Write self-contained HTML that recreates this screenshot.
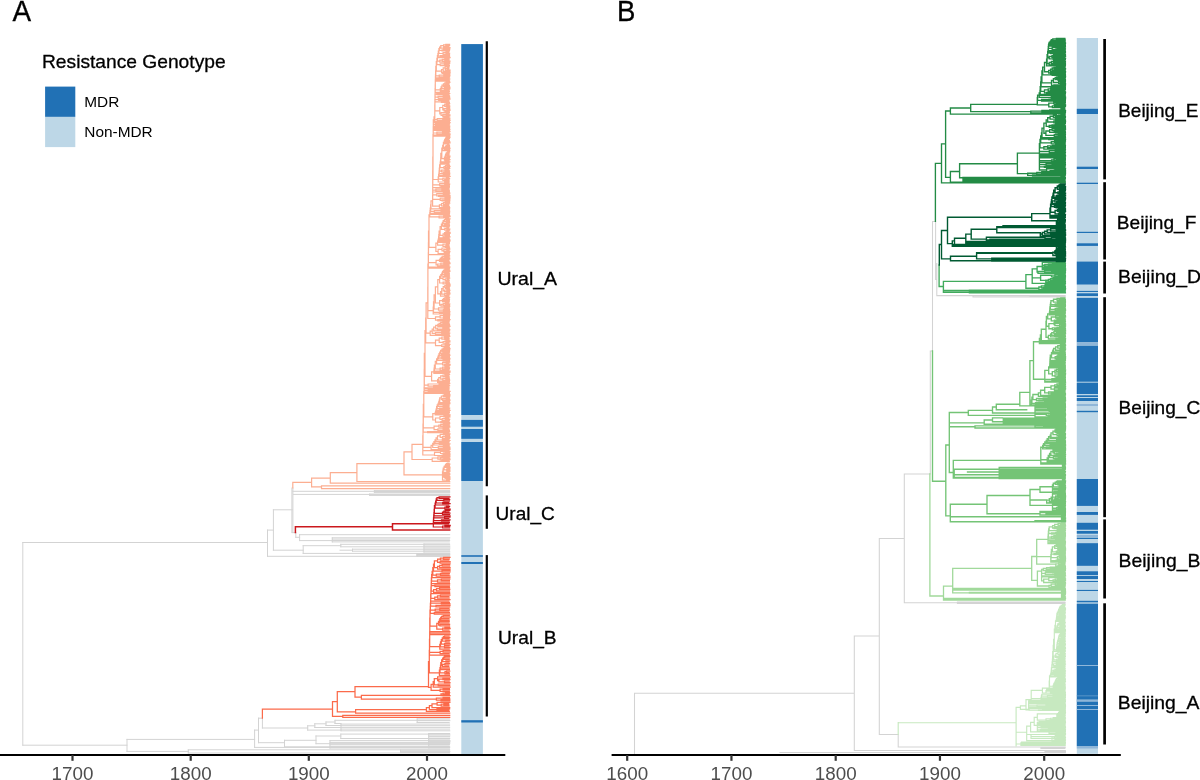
<!DOCTYPE html>
<html><head><meta charset="utf-8"><title>Figure</title>
<style>
html,body{margin:0;padding:0;background:#fff;}
svg{display:block;font-family:"Liberation Sans",sans-serif;will-change:transform;}
</style></head><body>
<svg width="1200" height="780" viewBox="0 0 1200 780">
<rect x="0" y="0" width="1200" height="780" fill="#fff"/>
<path d="M22.8 542.5V745.2M22.8 542.5H267.5M22.8 745.2H127.0M127.0 739.4V751.4M127.0 739.4H254.6M127.0 751.4H188.3M188.3 749.8V753.0M188.3 749.8H449.7M188.3 753.0H449.7M254.6 730.1V747.4M254.6 730.1H258.5M258.5 718.2V742.7M258.5 718.2H262.4M262.4 718.2V728.0M262.4 728.0H307.7M307.7 725.8V730.1M307.7 725.8H314.8M314.8 723.8V727.5M314.8 723.8H326.0M326.0 722.0V725.5M326.0 722.0H335.0M335.0 720.3V723.5M335.0 720.3H449.7M335.0 723.5H341.0M314.8 727.5H341.0M326.0 725.5H341.0M307.7 730.1H341.0M341.0 724.1H449.6M341.0 725.7H449.6M341.0 727.4H449.7M341.0 729.1H449.6M341.0 730.8H449.8M341.0 724.1V730.8M417.2 718.9H449.4M417.2 720.7H449.8M417.2 722.5H449.2M417.2 718.9V722.5M258.5 742.7H284.5M284.5 740.3V746.8M284.5 740.3H316.0M316.0 736.0V743.7M316.0 736.0H340.8M340.8 734.1V738.5M340.8 734.1H449.7M340.8 738.5H449.7M316.0 743.7H449.7M284.5 746.8H449.7M254.6 747.4H449.7M330.0 740.6H450.0M330.0 742.4H449.7M330.0 744.3H449.2M330.0 746.2H449.2M330.0 748.0H449.4M330.0 740.6V748.0M428.7 733.5H449.6M428.7 735.1H449.9M428.7 736.6H449.7M428.7 738.2H449.7M428.7 739.9H449.4M428.7 741.4H450.0M428.7 743.0H449.8M428.7 744.6H449.4M428.7 746.2H449.3M428.7 747.8H449.5M428.7 733.5V747.8M400.5 750.2H449.5M400.5 751.4H449.9M400.5 752.5H449.4M400.5 750.2V752.5M267.5 530.1V556.3M267.5 530.1H273.4M273.4 509.8V550.2M273.4 509.8H292.3M291.9 488.0V532.6M292.9 488.0V532.6M292.8 491.3H449.7M293.5 494.4H449.7M374.4 490.6H449.6M374.4 491.5H449.5M374.4 492.4H449.7M374.4 490.6V492.4M369.7 494.1H449.4M369.7 495.4H449.5M369.7 494.1V495.4M292.3 532.6H295.8M295.8 532.6V537.3M295.8 537.3H299.6M299.6 534.7V540.6M299.6 534.7H449.7M299.6 540.6H449.7M332.3 537.8H449.8M332.3 539.1H449.4M332.3 540.5H449.2M332.3 541.9H449.3M332.3 537.8V541.9M273.4 550.2H303.2M303.2 545.7V553.4M303.2 545.7H340.8M340.8 544.3V546.8M340.8 544.3H449.7M340.8 546.8H449.7M303.2 553.4H449.7M352.5 549.2V551.2M352.5 549.2H449.7M352.5 551.2H449.7M340.0 550.2H352.5M417.0 553.7H449.6M417.0 554.5H449.8M417.0 555.3H449.7M417.0 556.1H449.5M417.0 553.7V556.1M267.5 556.3H449.7M424.0 544.0H449.4M424.0 546.0H449.8M424.0 548.0H449.9M424.0 550.0H449.5M424.0 552.0H449.7M424.0 544.0V552.0" stroke="#D3D3D3" stroke-width="1.0" fill="none" stroke-linecap="square"/>
<path d="M292.8 482.3V488.0M292.8 482.3H311.6M311.6 478.2V486.9M311.6 478.2H330.3M330.3 472.6V483.1M330.3 472.6H356.9M356.9 463.7V481.5M356.9 481.5H449.7M330.3 483.1H449.7M311.6 486.9H321.5M321.5 485.9V488.7M321.5 485.9H449.7M321.5 488.7H449.7M356.9 463.7H404.0M404.0 451.9V474.8M404.0 451.9H412.0M412.0 444.3V459.5M412.0 444.3H422.8M445.8 44.3V45.4M445.8 44.3H449.6M445.8 45.4H449.6M443.6 44.9V46.5M443.6 44.9H445.8M443.6 46.5H448.9M443.6 47.7V48.8M443.6 47.7H450.0M443.6 48.8H449.8M440.8 45.7V48.2M440.8 45.7H443.6M440.8 48.2H443.6M442.0 49.9V51.0M442.0 49.9H449.6M442.0 51.0H449.4M439.6 47.0V50.5M439.6 47.0H440.8M439.6 50.5H442.0M446.0 52.1V53.3M446.0 52.1H448.8M446.0 53.3H449.6M443.1 52.7V54.4M443.1 52.7H446.0M443.1 54.4H449.5M438.9 48.7V53.5M438.9 48.7H439.6M438.9 53.5H443.1M440.4 55.5V56.6M440.4 55.5H449.5M440.4 56.6H449.6M438.3 51.1V56.1M438.3 51.1H438.9M438.3 56.1H440.4M437.9 53.6V57.7M437.9 53.6H438.3M437.9 57.7H450.1M444.8 58.9V60.0M444.8 58.9H449.1M444.8 60.0H449.0M442.3 59.4V61.1M442.3 59.4H444.8M442.3 61.1H450.0M439.8 60.2V62.2M439.8 60.2H442.3M439.8 62.2H449.7M437.4 55.7V61.2M437.4 55.7H437.9M437.4 61.2H439.8M444.4 63.3V64.4M444.4 63.3H449.7M444.4 64.4H449.1M440.2 63.9V65.6M440.2 63.9H444.4M440.2 65.6H449.4M436.9 58.4V64.7M436.9 58.4H437.4M436.9 64.7H440.2M447.4 67.8V68.9M447.4 67.8H448.9M447.4 68.9H448.9M445.7 68.4V70.0M445.7 68.4H447.4M445.7 70.0H450.1M445.1 66.7V69.2M445.1 66.7H449.1M445.1 69.2H445.7M443.2 67.9V71.2M443.2 67.9H445.1M443.2 71.2H449.9M442.6 72.3V73.4M442.6 72.3H450.1M442.6 73.4H449.9M441.5 69.6V72.8M441.5 69.6H443.2M441.5 72.8H442.6M436.3 61.6V71.2M436.3 61.6H436.9M436.3 71.2H441.5M443.8 74.5V75.6M443.8 74.5H449.8M443.8 75.6H449.9M439.2 75.1V76.8M439.2 75.1H443.8M439.2 76.8H449.6M435.8 66.4V75.9M435.8 66.4H436.3M435.8 75.9H439.2M435.6 71.2V77.9M435.6 71.2H435.8M435.6 77.9H449.2M435.5 74.5V79.0M435.5 74.5H435.6M435.5 79.0H449.9M435.4 76.8V80.1M435.4 76.8H435.5M435.4 80.1H449.2M435.4 78.4V81.2M435.4 78.4H435.4M435.4 81.2H449.6M446.1 82.4V83.5M446.1 82.4H449.9M446.1 83.5H449.1M444.8 82.9V84.6M444.8 82.9H446.1M444.8 84.6H449.0M444.1 85.7V86.8M444.1 85.7H449.4M444.1 86.8H449.7M443.4 83.8V86.3M443.4 83.8H444.8M443.4 86.3H444.1M444.4 88.0V89.1M444.4 88.0H450.1M444.4 89.1H449.7M442.0 85.0V88.5M442.0 85.0H443.4M442.0 88.5H444.4M441.1 86.8V90.2M441.1 86.8H442.0M441.1 90.2H449.1M440.3 88.5V91.3M440.3 88.5H441.1M440.3 91.3H449.4M435.3 79.8V89.9M435.3 79.8H435.4M435.3 89.9H440.3M435.2 84.9V92.4M435.2 84.9H435.3M435.2 92.4H449.0M436.8 93.5V94.7M436.8 93.5H449.8M436.8 94.7H449.0M435.1 88.6V94.1M435.1 94.1H436.8M443.2 95.8V96.9M443.2 95.8H449.5M443.2 96.9H449.6M438.1 96.3V98.0M438.1 96.3H443.2M438.1 98.0H449.8M435.1 91.4V97.2M435.1 91.4H435.1M435.1 97.2H438.1M438.7 99.1V100.3M438.7 99.1H450.0M438.7 100.3H448.9M435.0 94.3V99.7M435.0 94.3H435.1M435.0 99.7H438.7M441.4 101.4V102.5M441.4 101.4H449.0M441.4 102.5H449.4M435.0 97.0V101.9M435.0 101.9H441.4M446.2 103.6V104.7M446.2 103.6H449.7M446.2 104.7H449.1M446.2 105.9V107.0M446.2 105.9H449.7M446.2 107.0H449.8M444.7 104.2V106.4M444.7 104.2H446.2M444.7 106.4H446.2M446.9 108.1V109.2M446.9 108.1H449.5M446.9 109.2H449.9M445.1 110.3V111.5M445.1 110.3H450.0M445.1 111.5H449.3M444.0 108.7V110.9M444.0 108.7H446.9M444.0 110.9H445.1M442.8 105.3V109.8M442.8 105.3H444.7M442.8 109.8H444.0M446.3 113.7V114.8M446.3 113.7H448.9M446.3 114.8H449.9M443.8 115.9V117.1M443.8 115.9H449.9M443.8 117.1H449.0M442.8 114.3V116.5M442.8 114.3H446.3M442.8 116.5H443.8M441.1 112.6V115.4M441.1 112.6H449.4M441.1 115.4H442.8M439.8 107.5V114.0M439.8 107.5H442.8M439.8 114.0H441.1M434.9 99.5V110.8M434.9 99.5H435.0M434.9 110.8H439.8M442.7 118.2V119.3M442.7 118.2H449.9M442.7 119.3H449.7M437.2 118.7V120.4M437.2 118.7H442.7M437.2 120.4H450.1M434.8 105.1V119.6M434.8 105.1H434.9M434.8 119.6H437.2M434.8 112.3V121.5M434.8 121.5H449.5M434.0 116.9V122.6M434.0 116.9H434.8M434.0 122.6H450.1M435.6 123.8V124.9M435.6 123.8H449.5M435.6 124.9H449.2M433.3 119.8V124.3M433.3 119.8H434.0M433.3 124.3H435.6M433.3 122.1V126.0M433.3 126.0H449.8M433.3 124.0V127.1M433.3 127.1H449.7M433.3 125.6V128.2M433.3 128.2H449.5M433.2 126.9V129.4M433.2 129.4H449.9M433.2 128.1V130.5M433.2 130.5H449.6M442.5 131.6V132.7M442.5 131.6H450.0M442.5 132.7H449.1M436.9 132.2V133.8M436.9 132.2H442.5M436.9 133.8H450.0M433.2 129.3V133.0M433.2 133.0H436.9M433.2 131.2V135.0M433.2 135.0H450.1M433.2 133.1V136.1M433.2 136.1H449.5M446.4 137.2V138.3M446.4 137.2H450.1M446.4 138.3H449.5M445.7 137.8V139.4M445.7 137.8H446.4M445.7 139.4H448.9M445.3 138.6V140.6M445.3 138.6H445.7M445.3 140.6H449.4M445.2 141.7V142.8M445.2 141.7H449.8M445.2 142.8H450.1M444.7 139.6V142.2M444.7 139.6H445.3M444.7 142.2H445.2M444.2 140.9V143.9M444.2 140.9H444.7M444.2 143.9H448.8M447.3 145.0V146.2M447.3 145.0H449.5M447.3 146.2H449.5M446.1 145.6V147.3M446.1 145.6H447.3M446.1 147.3H449.6M445.3 146.4V148.4M445.3 146.4H446.1M445.3 148.4H450.0M444.3 147.4V149.5M444.3 147.4H445.3M444.3 149.5H449.6M443.4 142.4V148.5M443.4 142.4H444.2M443.4 148.5H444.3M442.7 145.4V150.6M442.7 145.4H443.4M442.7 150.6H449.8M447.7 151.8V152.9M447.7 151.8H449.5M447.7 152.9H449.1M446.9 152.3V154.0M446.9 152.3H447.7M446.9 154.0H449.1M446.9 155.1V156.2M446.9 155.1H449.0M446.9 156.2H450.0M446.1 153.2V155.7M446.1 153.2H446.9M446.1 155.7H446.9M445.5 154.4V157.3M445.5 154.4H446.1M445.5 157.3H449.7M445.2 155.9V158.5M445.2 155.9H445.5M445.2 158.5H449.3M445.1 159.6V160.7M445.1 159.6H450.0M445.1 160.7H449.1M444.4 157.2V160.1M444.4 157.2H445.2M444.4 160.1H445.1M441.8 148.0V158.7M441.8 148.0H442.7M441.8 158.7H444.4M440.8 153.3V161.8M440.8 153.3H441.8M440.8 161.8H449.9M440.7 157.6V162.9M440.7 157.6H440.8M440.7 162.9H449.1M440.5 160.3V164.1M440.5 160.3H440.7M440.5 164.1H448.9M446.9 165.2V166.3M446.9 165.2H449.4M446.9 166.3H450.1M445.4 165.7V167.4M445.4 165.7H446.9M445.4 167.4H449.5M444.0 166.6V168.5M444.0 166.6H445.4M444.0 168.5H449.8M440.2 162.2V167.6M440.2 162.2H440.5M440.2 167.6H444.0M445.0 169.7V170.8M445.0 169.7H448.9M445.0 170.8H449.6M441.4 170.2V171.9M441.4 170.2H445.0M441.4 171.9H449.3M439.6 164.9V171.1M439.6 164.9H440.2M439.6 171.1H441.4M443.3 173.0V174.1M443.3 173.0H449.8M443.3 174.1H449.7M439.3 168.0V173.6M439.3 168.0H439.6M439.3 173.6H443.3M439.1 170.8V175.3M439.1 170.8H439.3M439.1 175.3H449.3M438.9 173.0V176.4M438.9 173.0H439.1M438.9 176.4H450.2M446.4 177.5V178.6M446.4 177.5H448.9M446.4 178.6H449.6M444.7 179.7V180.9M444.7 179.7H449.0M444.7 180.9H449.1M442.9 178.1V180.3M442.9 178.1H446.4M442.9 180.3H444.7M438.6 174.7V179.2M438.6 174.7H438.9M438.6 179.2H442.9M438.2 176.9V182.0M438.2 176.9H438.6M438.2 182.0H449.1M433.0 134.6V179.5M433.0 134.6H433.2M433.0 179.5H438.2M444.7 183.1V184.2M444.7 183.1H449.0M444.7 184.2H449.7M441.0 185.3V186.4M441.0 185.3H449.3M441.0 186.4H449.4M439.7 183.7V185.9M439.7 183.7H444.7M439.7 185.9H441.0M432.8 157.0V184.8M432.8 157.0H433.0M432.8 184.8H439.7M432.7 170.9V187.6M432.7 187.6H449.3M441.9 188.7V189.8M441.9 188.7H448.9M441.9 189.8H449.1M435.9 189.2V190.9M435.9 189.2H441.9M435.9 190.9H449.4M432.7 179.2V190.1M432.7 190.1H435.9M432.7 184.7V192.0M432.7 192.0H449.3M443.3 193.2V194.3M443.3 193.2H449.9M443.3 194.3H449.2M438.6 195.4V196.5M438.6 195.4H450.0M438.6 196.5H450.0M436.8 193.7V196.0M436.8 193.7H443.3M436.8 196.0H438.6M432.7 188.4V194.8M432.7 194.8H436.8M445.0 197.6V198.8M445.0 197.6H450.1M445.0 198.8H449.9M442.0 199.9V201.0M442.0 199.9H449.8M442.0 201.0H449.9M440.2 198.2V200.4M440.2 198.2H445.0M440.2 200.4H442.0M432.7 191.6V199.3M432.7 199.3H440.2M445.3 202.1V203.2M445.3 202.1H449.4M445.3 203.2H449.8M443.4 202.7V204.4M443.4 202.7H445.3M443.4 204.4H448.9M443.3 205.5V206.6M443.3 205.5H448.8M443.3 206.6H449.3M441.5 203.5V206.0M441.5 203.5H443.4M441.5 206.0H443.3M439.4 204.8V207.7M439.4 204.8H441.5M439.4 207.7H449.7M432.6 195.5V206.2M432.6 206.2H439.4M431.0 200.9V208.8M431.0 200.9H432.6M431.0 208.8H449.6M441.0 210.0V211.1M441.0 210.0H449.3M441.0 211.1H449.7M434.3 210.5V212.2M434.3 210.5H441.0M434.3 212.2H449.6M430.6 204.8V211.4M430.6 204.8H431.0M430.6 211.4H434.3M430.2 208.1V213.3M430.2 208.1H430.6M430.2 213.3H449.5M430.0 210.7V214.4M430.0 210.7H430.2M430.0 214.4H449.3M443.7 215.6V216.7M443.7 215.6H449.8M443.7 216.7H450.1M439.1 216.1V217.8M439.1 216.1H443.7M439.1 217.8H448.8M429.8 212.6V216.9M429.8 212.6H430.0M429.8 216.9H439.1M445.6 218.9V220.0M445.6 218.9H450.1M445.6 220.0H449.3M446.4 221.1V222.3M446.4 221.1H449.5M446.4 222.3H449.6M444.4 219.5V221.7M444.4 219.5H445.6M444.4 221.7H446.4M444.7 223.4V224.5M444.7 223.4H449.2M444.7 224.5H449.3M443.2 220.6V223.9M443.2 220.6H444.4M443.2 223.9H444.7M443.8 225.6V226.7M443.8 225.6H449.5M443.8 226.7H449.2M442.4 222.3V226.2M442.4 222.3H443.2M442.4 226.2H443.8M446.9 227.9V229.0M446.9 227.9H448.8M446.9 229.0H449.9M444.8 228.4V230.1M444.8 228.4H446.9M444.8 230.1H449.6M441.4 224.2V229.3M441.4 224.2H442.4M441.4 229.3H444.8M446.9 231.2V232.3M446.9 231.2H448.9M446.9 232.3H450.1M445.7 231.8V233.5M445.7 231.8H446.9M445.7 233.5H450.1M445.1 234.6V235.7M445.1 234.6H449.4M445.1 235.7H449.4M444.5 232.6V235.1M444.5 232.6H445.7M444.5 235.1H445.1M443.1 233.9V236.8M443.1 233.9H444.5M443.1 236.8H450.1M440.1 226.7V235.3M440.1 226.7H441.4M440.1 235.3H443.1M439.1 231.0V237.9M439.1 231.0H440.1M439.1 237.9H449.1M438.8 234.5V239.1M438.8 234.5H439.1M438.8 239.1H449.5M438.6 236.8V240.2M438.6 236.8H438.8M438.6 240.2H450.1M438.4 238.5V241.3M438.4 238.5H438.6M438.4 241.3H449.8M438.1 239.9V242.4M438.1 239.9H438.4M438.1 242.4H449.4M446.4 243.5V244.7M446.4 243.5H449.4M446.4 244.7H449.0M445.4 245.8V246.9M445.4 245.8H449.0M445.4 246.9H449.3M443.0 244.1V246.3M443.0 244.1H446.4M443.0 246.3H445.4M437.6 241.1V245.2M437.6 241.1H438.1M437.6 245.2H443.0M446.8 249.1V250.2M446.8 249.1H449.8M446.8 250.2H449.1M444.6 251.4V252.5M444.6 251.4H449.9M444.6 252.5H449.6M443.8 249.7V251.9M443.8 249.7H446.8M443.8 251.9H444.6M442.0 248.0V250.8M442.0 248.0H449.6M442.0 250.8H443.8M438.1 249.4V253.6M438.1 249.4H442.0M438.1 253.6H449.3M435.9 243.2V251.5M435.9 243.2H437.6M435.9 251.5H438.1M429.0 214.8V247.3M429.0 214.8H429.8M429.0 247.3H435.9M428.5 231.1V254.7M428.5 231.1H429.0M428.5 254.7H449.2M444.7 255.8V257.0M444.7 255.8H449.7M444.7 257.0H449.1M442.8 256.4V258.1M442.8 256.4H444.7M442.8 258.1H449.7M441.5 257.2V259.2M441.5 257.2H442.8M441.5 259.2H449.7M440.4 258.2V260.3M440.4 258.2H441.5M440.4 260.3H448.8M439.5 259.3V261.4M439.5 259.3H440.4M439.5 261.4H449.2M443.8 262.6V263.7M443.8 262.6H449.8M443.8 263.7H450.0M440.8 263.1V264.8M440.8 263.1H443.8M440.8 264.8H449.0M437.7 264.0V265.9M437.7 264.0H440.8M437.7 265.9H449.1M436.1 260.4V264.9M436.1 260.4H439.5M436.1 264.9H437.7M428.4 242.9V262.6M428.4 242.9H428.5M428.4 262.6H436.1M428.3 252.8V267.0M428.3 252.8H428.4M428.3 267.0H450.1M428.3 259.9V268.2M428.3 268.2H449.5M445.0 269.3V270.4M445.0 269.3H449.2M445.0 270.4H449.8M444.0 269.8V271.5M444.0 269.8H445.0M444.0 271.5H449.9M443.3 270.7V272.6M443.3 270.7H444.0M443.3 272.6H449.1M444.7 273.8V274.9M444.7 273.8H449.4M444.7 274.9H449.2M442.5 271.7V274.3M442.5 271.7H443.3M442.5 274.3H444.7M441.8 273.0V276.0M441.8 273.0H442.5M441.8 276.0H449.5M447.2 278.2V279.3M447.2 278.2H449.7M447.2 279.3H448.9M445.3 278.8V280.5M445.3 278.8H447.2M445.3 280.5H449.2M443.0 277.1V279.6M443.0 277.1H449.2M443.0 279.6H445.3M440.8 274.5V278.4M440.8 274.5H441.8M440.8 278.4H443.0M446.0 281.6V282.7M446.0 281.6H449.0M446.0 282.7H449.3M443.1 282.1V283.8M443.1 282.1H446.0M443.1 283.8H449.8M439.6 276.4V283.0M439.6 276.4H440.8M439.6 283.0H443.1M446.4 284.9V286.1M446.4 284.9H450.1M446.4 286.1H450.0M445.6 287.2V288.3M445.6 287.2H449.3M445.6 288.3H449.3M444.8 285.5V287.7M444.8 285.5H446.4M444.8 287.7H445.6M446.8 289.4V290.5M446.8 289.4H449.6M446.8 290.5H449.9M444.6 290.0V291.7M444.6 290.0H446.8M444.6 291.7H449.5M443.2 286.6V290.8M443.2 286.6H444.8M443.2 290.8H444.6M446.9 292.8V293.9M446.9 292.8H449.8M446.9 293.9H450.0M444.7 293.3V295.0M444.7 293.3H446.9M444.7 295.0H449.2M441.7 288.7V294.2M441.7 288.7H443.2M441.7 294.2H444.7M440.5 291.5V296.1M440.5 291.5H441.7M440.5 296.1H448.8M437.8 279.7V293.8M437.8 279.7H439.6M437.8 293.8H440.5M445.8 297.3V298.4M445.8 297.3H449.6M445.8 298.4H449.2M444.4 297.8V299.5M444.4 297.8H445.8M444.4 299.5H449.5M443.4 298.7V300.6M443.4 298.7H444.4M443.4 300.6H449.3M442.5 299.6V301.7M442.5 299.6H443.4M442.5 301.7H449.2M445.4 302.9V304.0M445.4 302.9H448.9M445.4 304.0H449.9M443.2 303.4V305.1M443.2 303.4H445.4M443.2 305.1H449.4M441.0 304.3V306.2M441.0 304.3H443.2M441.0 306.2H449.8M439.6 300.7V305.2M439.6 300.7H442.5M439.6 305.2H441.0M435.4 286.8V303.0M435.4 286.8H437.8M435.4 303.0H439.6M444.2 307.3V308.5M444.2 307.3H449.3M444.2 308.5H449.3M443.4 309.6V310.7M443.4 309.6H449.5M443.4 310.7H449.5M438.5 307.9V310.1M438.5 307.9H444.2M438.5 310.1H443.4M434.1 294.9V309.0M434.1 294.9H435.4M434.1 309.0H438.5M439.4 311.8V312.9M439.4 311.8H450.0M439.4 312.9H449.4M433.5 301.9V312.4M433.5 301.9H434.1M433.5 312.4H439.4M433.2 307.2V314.0M433.2 307.2H433.5M433.2 314.0H449.9M427.9 264.0V310.6M427.9 264.0H428.3M427.9 310.6H433.2M443.6 315.2V316.3M443.6 315.2H449.7M443.6 316.3H449.5M443.4 317.4V318.5M443.4 317.4H449.4M443.4 318.5H449.4M440.1 315.7V318.0M440.1 315.7H443.6M440.1 318.0H443.4M437.8 319.6V320.8M437.8 319.6H450.1M437.8 320.8H449.3M435.5 316.8V320.2M435.5 316.8H440.1M435.5 320.2H437.8M427.8 287.3V318.5M427.8 287.3H427.9M427.8 318.5H435.5M442.9 321.9V323.0M442.9 321.9H449.0M442.9 323.0H448.9M440.7 322.4V324.1M440.7 322.4H442.9M440.7 324.1H449.4M439.1 323.3V325.2M439.1 323.3H440.7M439.1 325.2H449.6M437.8 324.3V326.4M437.8 324.3H439.1M437.8 326.4H450.0M442.8 327.5V328.6M442.8 327.5H449.1M442.8 328.6H449.1M437.4 328.0V329.7M437.4 328.0H442.8M437.4 329.7H449.8M435.7 325.3V328.9M435.7 325.3H437.8M435.7 328.9H437.4M433.7 327.1V330.8M433.7 327.1H435.7M433.7 330.8H449.6M441.7 332.0V333.1M441.7 332.0H449.0M441.7 333.1H449.8M435.5 332.5V334.2M435.5 332.5H441.7M435.5 334.2H449.2M432.2 329.0V333.4M432.2 329.0H433.7M432.2 333.4H435.5M430.2 331.2V335.3M430.2 331.2H432.2M430.2 335.3H449.5M426.1 302.9V333.2M426.1 302.9H427.8M426.1 333.2H430.2M444.4 336.4V337.6M444.4 336.4H449.8M444.4 337.6H448.9M444.8 338.7V339.8M444.8 338.7H449.1M444.8 339.8H449.0M441.9 337.0V339.2M441.9 337.0H444.4M441.9 339.2H444.8M446.0 340.9V342.0M446.0 340.9H449.9M446.0 342.0H449.9M443.1 341.5V343.1M443.1 341.5H446.0M443.1 343.1H448.9M439.2 338.1V342.3M439.2 338.1H441.9M439.2 342.3H443.1M445.2 344.3V345.4M445.2 344.3H450.0M445.2 345.4H449.4M441.6 344.8V346.5M441.6 344.8H445.2M441.6 346.5H449.1M435.5 340.2V345.7M435.5 340.2H439.2M435.5 345.7H441.6M425.7 318.1V342.9M425.7 318.1H426.1M425.7 342.9H435.5M444.3 347.6V348.7M444.3 347.6H449.5M444.3 348.7H450.0M443.1 348.2V349.9M443.1 348.2H444.3M443.1 349.9H449.7M442.9 351.0V352.1M442.9 351.0H449.5M442.9 352.1H449.5M441.9 349.0V351.5M441.9 349.0H443.1M441.9 351.5H442.9M441.6 353.2V354.3M441.6 353.2H449.1M441.6 354.3H449.7M440.6 350.3V353.8M440.6 350.3H441.9M440.6 353.8H441.6M439.7 352.0V355.5M439.7 352.0H440.6M439.7 355.5H449.9M441.8 356.6V357.7M441.8 356.6H449.4M441.8 357.7H449.5M439.0 353.7V357.1M439.0 353.7H439.7M439.0 357.1H441.8M438.3 355.4V358.8M438.3 355.4H439.0M438.3 358.8H450.1M443.0 359.9V361.1M443.0 359.9H449.4M443.0 361.1H449.6M437.7 357.1V360.5M437.7 357.1H438.3M437.7 360.5H443.0M446.2 362.2V363.3M446.2 362.2H449.7M446.2 363.3H448.9M444.2 364.4V365.5M444.2 364.4H450.1M444.2 365.5H449.9M442.6 362.7V365.0M442.6 362.7H446.2M442.6 365.0H444.2M436.6 358.8V363.9M436.6 358.8H437.7M436.6 363.9H442.6M445.0 366.7V367.8M445.0 366.7H449.1M445.0 367.8H449.6M442.6 367.2V368.9M442.6 367.2H445.0M442.6 368.9H449.4M440.1 368.1V370.0M440.1 368.1H442.6M440.1 370.0H448.8M435.3 361.3V369.0M435.3 361.3H436.6M435.3 369.0H440.1M434.4 365.2V371.1M434.4 365.2H435.3M434.4 371.1H450.1M434.1 368.2V372.3M434.1 368.2H434.4M434.1 372.3H449.9M433.9 370.2V373.4M433.9 370.2H434.1M433.9 373.4H449.1M444.9 374.5V375.6M444.9 374.5H449.6M444.9 375.6H448.9M443.0 375.0V376.7M443.0 375.0H444.9M443.0 376.7H449.1M445.8 377.8V379.0M445.8 377.8H449.2M445.8 379.0H449.4M442.8 378.4V380.1M442.8 378.4H445.8M442.8 380.1H449.7M440.7 375.9V379.2M440.7 375.9H443.0M440.7 379.2H442.8M438.8 377.6V381.2M438.8 377.6H440.7M438.8 381.2H449.4M437.6 379.4V382.3M437.6 379.4H438.8M437.6 382.3H449.3M431.6 371.8V380.9M431.6 371.8H433.9M431.6 380.9H437.6M425.0 330.5V376.3M425.0 330.5H425.7M425.0 376.3H431.6M439.0 383.4V384.6M439.0 383.4H449.8M439.0 384.6H449.0M433.7 385.7V386.8M433.7 385.7H449.6M433.7 386.8H448.9M428.1 384.0V386.2M428.1 384.0H439.0M428.1 386.2H433.7M424.3 353.4V385.1M424.3 353.4H425.0M424.3 385.1H428.1M424.2 369.3V387.9M424.2 369.3H424.3M424.2 387.9H449.1M424.2 378.6V389.0M424.2 389.0H449.0M428.2 390.2V391.3M428.2 390.2H448.9M428.2 391.3H450.1M424.2 383.8V390.7M424.2 390.7H428.2M424.1 387.3V392.4M424.1 392.4H449.4M424.1 389.8V393.5M424.1 393.5H449.5M444.5 394.6V395.8M444.5 394.6H449.9M444.5 395.8H449.9M443.2 395.2V396.9M443.2 395.2H444.5M443.2 396.9H449.6M446.2 398.0V399.1M446.2 398.0H449.3M446.2 399.1H449.5M443.6 400.2V401.4M443.6 400.2H450.1M443.6 401.4H449.5M442.6 398.6V400.8M442.6 398.6H446.2M442.6 400.8H443.6M441.3 396.0V399.7M441.3 396.0H443.2M441.3 399.7H442.6M439.7 397.9V402.5M439.7 397.9H441.3M439.7 402.5H449.8M439.2 400.2V403.6M439.2 400.2H439.7M439.2 403.6H449.9M438.7 401.9V404.7M438.7 401.9H439.2M438.7 404.7H449.1M443.1 405.8V406.9M443.1 405.8H449.1M443.1 406.9H448.9M438.1 403.3V406.4M438.1 403.3H438.7M438.1 406.4H443.1M439.6 408.1V409.2M439.6 408.1H449.7M439.6 409.2H449.2M437.2 404.8V408.6M437.2 404.8H438.1M437.2 408.6H439.6M436.6 406.7V410.3M436.6 406.7H437.2M436.6 410.3H450.1M436.3 408.5V411.4M436.3 408.5H436.6M436.3 411.4H449.3M435.9 410.0V412.5M435.9 410.0H436.3M435.9 412.5H449.4M435.5 411.3V413.7M435.5 411.3H435.9M435.5 413.7H449.0M435.2 412.5V414.8M435.2 412.5H435.5M435.2 414.8H450.1M443.9 415.9V417.0M443.9 415.9H449.8M443.9 417.0H450.0M445.4 418.1V419.3M445.4 418.1H448.8M445.4 419.3H449.7M442.1 418.7V420.4M442.1 418.7H445.4M442.1 420.4H449.3M440.0 416.5V419.5M440.0 416.5H443.9M440.0 419.5H442.1M440.8 421.5V422.6M440.8 421.5H449.0M440.8 422.6H449.6M435.5 418.0V422.1M435.5 418.0H440.0M435.5 422.1H440.8M432.8 413.6V420.0M432.8 413.6H435.2M432.8 420.0H435.5M423.8 391.7V416.8M423.8 391.7H424.1M423.8 416.8H432.8M443.3 423.7V424.9M443.3 423.7H449.7M443.3 424.9H449.2M440.7 424.3V426.0M440.7 424.3H443.3M440.7 426.0H449.7M438.8 425.1V427.1M438.8 425.1H440.7M438.8 427.1H449.8M443.1 428.2V429.3M443.1 428.2H448.8M443.1 429.3H449.1M437.9 428.8V430.5M437.9 428.8H443.1M437.9 430.5H449.4M434.1 426.1V429.6M434.1 426.1H438.8M434.1 429.6H437.9M423.3 404.3V427.9M423.3 404.3H423.8M423.3 427.9H434.1M427.6 431.6V432.7M427.6 431.6H449.6M427.6 432.7H449.0M423.2 416.1V432.1M423.2 416.1H423.3M423.2 432.1H427.6M443.4 433.8V434.9M443.4 433.8H450.0M443.4 434.9H449.6M445.6 436.0V437.2M445.6 436.0H449.4M445.6 437.2H450.0M442.5 436.6V438.3M442.5 436.6H445.6M442.5 438.3H449.7M440.2 434.4V437.4M440.2 434.4H443.4M440.2 437.4H442.5M442.3 439.4V440.5M442.3 439.4H449.0M442.3 440.5H450.1M437.5 435.9V440.0M437.5 435.9H440.2M437.5 440.0H442.3M436.1 437.9V441.6M436.1 437.9H437.5M436.1 441.6H449.2M439.3 442.8V443.9M439.3 442.8H448.8M439.3 443.9H450.0M435.0 439.8V443.3M435.0 439.8H436.1M435.0 443.3H439.3M433.9 441.6V445.0M433.9 441.6H435.0M433.9 445.0H449.2M443.3 446.1V447.2M443.3 446.1H449.2M443.3 447.2H449.9M438.3 446.7V448.4M438.3 446.7H443.3M438.3 448.4H450.0M432.7 443.3V447.5M432.7 443.3H433.9M432.7 447.5H438.3M431.1 445.4V449.5M431.1 445.4H432.7M431.1 449.5H450.0M423.0 424.1V447.4M423.0 424.1H423.2M423.0 447.4H431.1M422.8 435.8V450.6M422.8 435.8H423.0M422.8 450.6H449.1M422.8 443.2V444.3M422.8 444.3V455.0M422.8 455.0H434.5M445.3 452.3V453.2M445.3 452.3H449.6M445.3 453.2H449.7M443.3 452.8V454.2M443.3 452.8H445.3M443.3 454.2H450.0M440.5 451.4V453.5M440.5 451.4H450.0M440.5 453.5H443.3M442.1 455.1V456.0M442.1 455.1H449.8M442.1 456.0H449.9M434.5 452.4V455.5M434.5 452.4H440.5M434.5 455.5H442.1M434.5 454.0V455.0M412.0 459.5H432.2M443.8 457.7V458.6M443.8 457.7H449.2M443.8 458.6H449.8M441.8 459.6V460.5M441.8 459.6H450.0M441.8 460.5H449.1M440.3 458.2V460.0M440.3 458.2H443.8M440.3 460.0H441.8M437.9 456.8V459.1M437.9 456.8H449.9M437.9 459.1H440.3M432.2 458.0V461.4M432.2 458.0H437.9M432.2 461.4H449.3M432.2 459.5V459.7M404.0 474.8H442.5M447.3 463.2V464.2M447.3 463.2H449.1M447.3 464.2H449.9M446.3 463.7V465.2M446.3 463.7H447.3M446.3 465.2H449.4M445.6 464.5V466.3M445.6 464.5H446.3M445.6 466.3H449.6M445.1 465.4V467.3M445.1 465.4H445.6M445.1 467.3H450.0M447.8 468.3V469.3M447.8 468.3H449.9M447.8 469.3H449.8M447.0 470.3V471.3M447.0 470.3H449.9M447.0 471.3H449.9M446.7 468.8V470.8M446.7 468.8H447.8M446.7 470.8H447.0M444.1 466.3V469.8M444.1 466.3H445.1M444.1 469.8H446.7M443.2 468.1V472.4M443.2 468.1H444.1M443.2 472.4H449.1M442.9 470.2V473.4M442.9 470.2H443.2M442.9 473.4H449.7M442.5 471.8V474.4M442.5 471.8H442.9M442.5 474.4H449.8M442.5 473.1V474.8M446.7 480.6V479.5M446.7 480.6H449.3M446.7 479.5H449.9M445.7 478.4V477.4M445.7 478.4H449.9M445.7 477.4H449.9M444.5 477.9V476.3M444.5 477.9H445.7M444.5 476.3H449.8M443.4 477.1V475.2M443.4 477.1H444.5M443.4 475.2H449.2M442.5 480.1V476.1M442.5 480.1H446.7M442.5 476.1H443.4M442.5 474.8V478.1" stroke="#FCAE91" stroke-width="1.2" fill="none" stroke-linecap="square"/>
<path d="M295.4 526.8V532.6M295.4 526.8H392.5M392.5 523.8V530.1M392.5 523.8H433.3M392.5 530.1H449.7" stroke="#CB181D" stroke-width="1.5" fill="none" stroke-linecap="square"/>
<path d="M439.1 496.9V498.3M439.1 496.9H450.0M439.1 498.3H449.0M443.8 499.6V501.0M443.8 499.6H449.7M443.8 501.0H449.4M437.0 497.6V500.3M437.0 497.6H439.1M437.0 500.3H443.8M442.7 502.3V503.7M442.7 502.3H448.8M442.7 503.7H450.1M436.2 498.9V503.0M436.2 498.9H437.0M436.2 503.0H442.7M435.6 501.0V505.0M435.6 501.0H436.2M435.6 505.0H448.7M446.4 506.4V507.7M446.4 506.4H449.6M446.4 507.7H448.9M444.9 507.0V509.1M444.9 507.0H446.4M444.9 509.1H450.2M435.1 503.0V508.1M435.1 503.0H435.6M435.1 508.1H444.9M445.2 510.4V511.8M445.2 510.4H449.9M445.2 511.8H448.9M443.8 511.1V513.1M443.8 511.1H445.2M443.8 513.1H450.0M442.5 512.1V514.5M442.5 512.1H443.8M442.5 514.5H449.6M434.4 505.5V513.3M434.4 505.5H435.1M434.4 513.3H442.5M434.1 509.4V515.8M434.1 509.4H434.4M434.1 515.8H450.1M444.6 517.2V518.5M444.6 517.2H450.0M444.6 518.5H448.8M433.9 512.6V517.9M433.9 512.6H434.1M433.9 517.9H444.6M441.5 519.9V521.2M441.5 519.9H450.1M441.5 521.2H449.2M433.7 515.2V520.6M433.7 515.2H433.9M433.7 520.6H441.5M433.5 517.9V522.6M433.5 517.9H433.7M433.5 522.6H449.4M433.4 520.2V523.9M433.4 520.2H433.5M433.4 523.9H448.7M444.9 525.3V526.6M444.9 525.3H450.2M444.9 526.6H449.8M442.7 526.0V528.0M442.7 526.0H444.9M442.7 528.0H449.5M433.3 522.1V527.0M433.3 522.1H433.4M433.3 527.0H442.7M433.3 523.8V524.5" stroke="#CB181D" stroke-width="1.2" fill="none" stroke-linecap="square"/>
<path d="M262.4 709.0V718.2M262.4 709.0H332.5M332.5 701.6V716.4M332.5 701.6H337.3M337.3 691.6V711.8M337.3 691.6H355.0M355.0 686.7V697.2M355.0 686.7H428.5M355.0 697.2H361.4M361.4 695.3V699.1M361.4 695.3H447.3M361.4 699.1H436.4M443.1 697.4V698.5M443.1 697.4H449.5M443.1 698.5H449.7M441.0 699.7V700.8M441.0 699.7H449.8M441.0 700.8H449.8M436.4 698.0V700.2M436.4 698.0H443.1M436.4 700.2H441.0M445.4 692.6V693.6M445.4 692.6H449.7M445.4 693.6H449.3M443.1 693.1V694.6M443.1 693.1H445.4M443.1 694.6H449.3M441.0 693.9V695.6M441.0 693.9H443.1M441.0 695.6H450.0M441.0 694.7V695.3M337.3 711.8H355.6M355.6 709.5V713.2M355.6 709.5H426.4M355.6 713.2H449.7M443.9 703.6V704.9M443.9 703.6H448.7M443.9 704.9H448.9M441.2 704.2V706.2M441.2 704.2H443.9M441.2 706.2H449.0M437.1 702.3V705.2M437.1 702.3H449.9M437.1 705.2H441.2M432.0 703.8V707.5M432.0 703.8H437.1M432.0 707.5H449.7M437.0 708.8V710.1M437.0 708.8H449.6M437.0 710.1H448.8M429.4 705.6V709.5M429.4 705.6H432.0M429.4 709.5H437.0M426.4 707.5V711.4M426.4 707.5H429.4M426.4 711.4H449.3M332.5 716.4H342.8M342.8 715.4V717.4M342.8 715.4H449.7M342.8 717.4H449.7M443.6 557.3V558.8M443.6 557.3H450.0M443.6 558.8H449.3M440.4 558.0V560.2M440.4 558.0H443.6M440.4 560.2H448.8M440.1 561.7V563.1M440.1 561.7H450.1M440.1 563.1H450.1M437.6 559.1V562.4M437.6 559.1H440.4M437.6 562.4H440.1M442.1 564.6V566.0M442.1 564.6H449.8M442.1 566.0H449.6M439.7 565.3V567.5M439.7 565.3H442.1M439.7 567.5H450.1M437.6 566.4V569.0M437.6 566.4H439.7M437.6 569.0H450.0M434.4 560.8V567.7M434.4 560.8H437.6M434.4 567.7H437.6M442.0 570.4V571.9M442.0 570.4H450.0M442.0 571.9H450.1M433.5 564.2V571.1M433.5 564.2H434.4M433.5 571.1H442.0M440.5 573.3V574.8M440.5 573.3H449.3M440.5 574.8H449.1M436.3 574.1V576.2M436.3 574.1H440.5M436.3 576.2H449.9M432.8 567.7V575.2M432.8 567.7H433.5M432.8 575.2H436.3M432.1 571.4V577.7M432.1 571.4H432.8M432.1 577.7H449.9M441.3 579.2V580.6M441.3 579.2H449.8M441.3 580.6H449.4M437.5 579.9V582.1M437.5 579.9H441.3M437.5 582.1H449.4M431.6 574.6V581.0M431.6 574.6H432.1M431.6 581.0H437.5M431.4 577.8V583.5M431.4 577.8H431.6M431.4 583.5H449.6M434.9 585.0V586.5M434.9 585.0H449.5M434.9 586.5H449.3M431.3 580.7V585.7M431.3 580.7H431.4M431.3 585.7H434.9M439.6 587.9V589.4M439.6 587.9H449.5M439.6 589.4H449.8M436.5 588.6V590.8M436.5 588.6H439.6M436.5 590.8H449.5M433.6 589.7V592.3M433.6 589.7H436.5M433.6 592.3H449.6M431.2 583.2V591.0M431.2 583.2H431.3M431.2 591.0H433.6M431.0 587.1V593.7M431.0 587.1H431.2M431.0 593.7H449.7M440.4 595.2V596.7M440.4 595.2H449.9M440.4 596.7H448.9M437.5 595.9V598.1M437.5 595.9H440.4M437.5 598.1H449.1M434.8 597.0V599.6M434.8 597.0H437.5M434.8 599.6H450.0M430.9 590.4V598.3M430.9 590.4H431.0M430.9 598.3H434.8M430.7 594.4V601.0M430.7 594.4H430.9M430.7 601.0H448.9M441.3 602.5V603.9M441.3 602.5H449.4M441.3 603.9H450.0M430.7 597.7V603.2M430.7 597.7H430.7M430.7 603.2H441.3M436.0 605.4V606.9M436.0 605.4H450.0M436.0 606.9H449.7M430.6 600.5V606.1M430.6 600.5H430.7M430.6 606.1H436.0M439.8 608.3V609.8M439.8 608.3H449.0M439.8 609.8H449.5M435.2 609.0V611.2M435.2 609.0H439.8M435.2 611.2H448.9M430.4 603.3V610.1M430.4 603.3H430.6M430.4 610.1H435.2M434.3 612.7V614.1M434.3 612.7H449.4M434.3 614.1H449.7M430.3 606.7V613.4M430.3 606.7H430.4M430.3 613.4H434.3M443.2 615.6V617.1M443.2 615.6H449.3M443.2 617.1H450.0M441.7 616.3V618.5M441.7 616.3H443.2M441.7 618.5H449.0M440.7 617.4V620.0M440.7 617.4H441.7M440.7 620.0H449.1M439.9 618.7V621.4M439.9 618.7H440.7M439.9 621.4H449.2M439.3 620.1V622.9M439.3 620.1H439.9M439.3 622.9H449.0M439.9 624.3V625.8M439.9 624.3H449.6M439.9 625.8H449.5M438.5 621.5V625.1M438.5 621.5H439.3M438.5 625.1H439.9M444.9 627.3V628.7M444.9 627.3H449.7M444.9 628.7H450.1M442.7 628.0V630.2M442.7 628.0H444.9M442.7 630.2H449.0M436.8 623.3V629.1M436.8 623.3H438.5M436.8 629.1H442.7M430.0 610.1V626.2M430.0 610.1H430.3M430.0 626.2H436.8M429.8 618.1V631.6M429.8 618.1H430.0M429.8 631.6H449.7M429.8 624.9V633.1M429.8 633.1H449.7M429.8 629.0V634.6M429.8 634.6H450.1M444.6 636.0V637.5M444.6 636.0H449.1M444.6 637.5H449.8M443.4 636.7V638.9M443.4 636.7H444.6M443.4 638.9H449.0M445.8 640.4V641.8M445.8 640.4H449.9M445.8 641.8H449.2M442.3 637.8V641.1M442.3 637.8H443.4M442.3 641.1H445.8M444.6 643.3V644.8M444.6 643.3H449.8M444.6 644.8H450.1M441.3 639.5V644.0M441.3 639.5H442.3M441.3 644.0H444.6M444.5 646.2V647.7M444.5 646.2H449.1M444.5 647.7H450.0M440.5 641.8V646.9M440.5 641.8H441.3M440.5 646.9H444.5M439.8 644.3V649.1M439.8 644.3H440.5M439.8 649.1H449.2M429.7 631.8V646.7M429.7 631.8H429.8M429.7 646.7H439.8M443.1 650.6V652.0M443.1 650.6H450.1M443.1 652.0H450.1M440.1 651.3V653.5M440.1 651.3H443.1M440.1 653.5H449.1M429.5 639.3V652.4M429.5 639.3H429.7M429.5 652.4H440.1M429.5 645.8V655.0M429.5 655.0H449.3M444.7 656.4V657.9M444.7 656.4H449.7M444.7 657.9H449.3M443.6 657.1V659.3M443.6 657.1H444.7M443.6 659.3H449.2M445.9 660.8V662.2M445.9 660.8H449.8M445.9 662.2H449.0M442.7 658.2V661.5M442.7 658.2H443.6M442.7 661.5H445.9M444.9 663.7V665.2M444.9 663.7H449.6M444.9 665.2H448.8M442.6 664.4V666.6M442.6 664.4H444.9M442.6 666.6H448.8M441.6 659.9V665.5M441.6 659.9H442.7M441.6 665.5H442.6M440.8 662.7V668.1M440.8 662.7H441.6M440.8 668.1H449.4M440.5 665.4V669.5M440.5 665.4H440.8M440.5 669.5H449.4M446.5 671.0V672.5M446.5 671.0H449.7M446.5 672.5H449.1M445.0 671.7V673.9M445.0 671.7H446.5M445.0 673.9H449.4M440.0 667.5V672.8M440.0 667.5H440.5M440.0 672.8H445.0M439.4 670.1V675.4M439.4 670.1H440.0M439.4 675.4H449.4M429.3 650.4V672.8M429.3 650.4H429.5M429.3 672.8H439.4M442.9 678.3V679.7M442.9 678.3H449.5M442.9 679.7H449.9M444.5 681.2V682.7M444.5 681.2H449.2M444.5 682.7H450.0M438.9 679.0V681.9M438.9 679.0H442.9M438.9 681.9H444.5M437.6 676.8V680.5M437.6 676.8H450.2M437.6 680.5H438.9M438.2 684.1V685.6M438.2 684.1H449.7M438.2 685.6H449.7M434.3 678.6V684.8M434.3 678.6H437.6M434.3 684.8H438.2M433.2 681.7V687.0M433.2 681.7H434.3M433.2 687.0H450.1M443.1 688.5V689.9M443.1 688.5H449.4M443.1 689.9H449.5M440.1 689.2V691.4M440.1 689.2H443.1M440.1 691.4H449.3M431.1 684.4V690.3M431.1 684.4H433.2M431.1 690.3H440.1M428.5 661.6V687.3M428.5 661.6H429.3M428.5 687.3H431.1M428.5 674.5V686.7" stroke="#FB6A4A" stroke-width="1.25" fill="none" stroke-linecap="square"/>
<path d="M634.5 693.3V754.0M634.5 693.3H854.3M854.3 636.0V750.5M854.3 750.5H1065.2M780.0 752.5H1065.2M1045.0 750.5H1065.3M1045.0 751.6H1065.5M1045.0 752.7H1065.4M1045.0 750.5V752.7M854.3 636.0H879.3M879.3 538.4V734.5M879.3 734.5H898.2M898.2 734.5V747.0M898.2 747.0H1065.2M1040.9 746.9H1065.1M1040.9 747.7H1065.2M1040.9 748.5H1064.8M1040.9 746.9V748.5M879.3 538.4H904.3M904.3 474.0V602.8M904.3 602.8H1065.2M957.4 602.0H1064.9M957.4 602.8H1065.2M957.4 603.5H1064.9M957.4 602.0V603.5M904.3 474.0H930.3M930.3 351.0V474.0M930.3 351.0H932.4M932.5 221.4V351.0M932.5 221.4H935.4M935.6 221.4V279.5M935.6 279.5H936.8M936.8 263.4V295.6M936.8 295.6H1065.2M973.0 295.6V297.0M973.0 297.0H1065.2M1030.0 296.3H1065.2" stroke="#D3D3D3" stroke-width="1.05" fill="none" stroke-linecap="square"/>
<path d="M898.2 722.5V734.5M898.2 722.7H1016.1M1016.1 707.3V745.8M1016.1 707.3H1020.4M1020.4 705.8V709.4M1020.4 705.8H1026.0M1026.0 699.6V709.9M1026.0 699.6H1031.2M1031.2 690.4V698.5M1031.2 690.4H1042.4M1042.4 688.1V693.0M1042.4 688.1H1050.1M1063.5 604.2V604.9M1063.5 604.2H1064.6M1063.5 604.9H1065.3M1062.6 605.7V606.4M1062.6 605.7H1064.6M1062.6 606.4H1064.6M1062.4 604.6V606.1M1062.4 604.6H1063.5M1062.4 606.1H1062.6M1061.2 605.3V607.2M1061.2 605.3H1062.4M1061.2 607.2H1064.8M1061.2 607.9V608.7M1061.2 607.9H1065.3M1061.2 608.7H1065.5M1060.1 606.3V608.3M1060.1 606.3H1061.2M1060.1 608.3H1061.2M1059.6 607.3V609.4M1059.6 607.3H1060.1M1059.6 609.4H1065.5M1059.6 610.2V610.9M1059.6 610.2H1065.1M1059.6 610.9H1065.3M1059.1 608.4V610.6M1059.1 608.4H1059.6M1059.1 610.6H1059.6M1058.6 609.5V611.7M1058.6 609.5H1059.1M1058.6 611.7H1064.7M1058.3 610.6V612.4M1058.3 610.6H1058.6M1058.3 612.4H1065.3M1058.0 611.5V613.2M1058.0 611.5H1058.3M1058.0 613.2H1065.3M1061.0 613.9V614.7M1061.0 613.9H1064.7M1061.0 614.7H1064.9M1059.1 614.3V615.4M1059.1 614.3H1061.0M1059.1 615.4H1065.2M1057.3 612.3V614.9M1057.3 612.3H1058.0M1057.3 614.9H1059.1M1056.9 613.6V616.2M1056.9 613.6H1057.3M1056.9 616.2H1065.5M1056.8 614.9V616.9M1056.8 614.9H1056.9M1056.8 616.9H1064.9M1056.7 615.9V617.7M1056.7 615.9H1056.8M1056.7 617.7H1065.5M1056.6 616.8V618.4M1056.6 616.8H1056.7M1056.6 618.4H1065.1M1056.5 617.6V619.2M1056.5 617.6H1056.6M1056.5 619.2H1064.9M1056.4 618.4V619.9M1056.4 618.4H1056.5M1056.4 619.9H1064.9M1056.3 619.1V620.7M1056.3 619.1H1056.4M1056.3 620.7H1064.8M1056.2 619.9V621.4M1056.2 619.9H1056.3M1056.2 621.4H1064.7M1060.7 622.2V622.9M1060.7 622.2H1065.4M1060.7 622.9H1065.0M1059.7 622.5V623.7M1059.7 622.5H1060.7M1059.7 623.7H1065.0M1058.9 624.4V625.2M1058.9 624.4H1064.6M1058.9 625.2H1065.1M1058.8 623.1V624.8M1058.8 623.1H1059.7M1058.8 624.8H1058.9M1061.5 625.9V626.6M1061.5 625.9H1065.2M1061.5 626.6H1065.3M1060.3 626.3V627.4M1060.3 626.3H1061.5M1060.3 627.4H1064.7M1059.3 626.8V628.1M1059.3 626.8H1060.3M1059.3 628.1H1065.0M1057.7 623.9V627.5M1057.7 623.9H1058.8M1057.7 627.5H1059.3M1056.9 625.7V628.9M1056.9 625.7H1057.7M1056.9 628.9H1064.7M1056.7 627.3V629.6M1056.7 627.3H1056.9M1056.7 629.6H1065.4M1059.3 630.4V631.1M1059.3 630.4H1065.4M1059.3 631.1H1065.5M1056.6 630.8V631.9M1056.6 630.8H1059.3M1056.6 631.9H1065.0M1055.9 628.5V631.3M1055.9 628.5H1056.7M1055.9 631.3H1056.6M1055.5 620.7V629.9M1055.5 620.7H1056.2M1055.5 629.9H1055.9M1054.9 625.3V632.6M1054.9 625.3H1055.5M1054.9 632.6H1065.1M1062.5 634.1V634.9M1062.5 634.1H1065.3M1062.5 634.9H1064.9M1061.3 634.5V635.6M1061.3 634.5H1062.5M1061.3 635.6H1065.1M1060.6 633.4V635.1M1060.6 633.4H1065.3M1060.6 635.1H1061.3M1059.7 634.2V636.4M1059.7 634.2H1060.6M1059.7 636.4H1065.3M1062.0 637.1V637.9M1062.0 637.1H1065.1M1062.0 637.9H1064.6M1061.0 637.5V638.6M1061.0 637.5H1062.0M1061.0 638.6H1065.1M1060.1 638.1V639.4M1060.1 638.1H1061.0M1060.1 639.4H1064.8M1059.0 635.3V638.7M1059.0 635.3H1059.7M1059.0 638.7H1060.1M1058.5 637.0V640.1M1058.5 637.0H1059.0M1058.5 640.1H1065.2M1058.3 638.6V640.9M1058.3 638.6H1058.5M1058.3 640.9H1065.0M1059.5 641.6V642.4M1059.5 641.6H1065.3M1059.5 642.4H1064.9M1058.0 639.7V642.0M1058.0 639.7H1058.3M1058.0 642.0H1059.5M1060.9 643.1V643.9M1060.9 643.1H1064.9M1060.9 643.9H1065.4M1058.9 643.5V644.6M1058.9 643.5H1060.9M1058.9 644.6H1065.4M1057.6 640.8V644.0M1057.6 640.8H1058.0M1057.6 644.0H1058.9M1060.7 645.4V646.1M1060.7 645.4H1065.1M1060.7 646.1H1065.1M1058.6 645.7V646.8M1058.6 645.7H1060.7M1058.6 646.8H1064.8M1057.2 642.4V646.3M1057.2 642.4H1057.6M1057.2 646.3H1058.6M1056.9 644.4V647.6M1056.9 644.4H1057.2M1056.9 647.6H1065.4M1056.8 646.0V648.3M1056.8 646.0H1056.9M1056.8 648.3H1065.5M1056.7 647.2V649.1M1056.7 647.2H1056.8M1056.7 649.1H1065.0M1056.6 648.1V649.8M1056.6 648.1H1056.7M1056.6 649.8H1065.2M1056.4 649.0V650.6M1056.4 649.0H1056.6M1056.4 650.6H1065.3M1054.3 629.0V649.8M1054.3 629.0H1054.9M1054.3 649.8H1056.4M1053.6 639.4V651.3M1053.6 639.4H1054.3M1053.6 651.3H1065.3M1061.8 652.8V653.6M1061.8 652.8H1064.8M1061.8 653.6H1065.3M1060.7 653.2V654.3M1060.7 653.2H1061.8M1060.7 654.3H1064.8M1059.7 653.8V655.1M1059.7 653.8H1060.7M1059.7 655.1H1065.3M1057.9 652.1V654.4M1057.9 652.1H1064.9M1057.9 654.4H1059.7M1058.3 655.8V656.6M1058.3 655.8H1064.8M1058.3 656.6H1065.4M1056.0 653.3V656.2M1056.0 653.3H1057.9M1056.0 656.2H1058.3M1055.3 654.7V657.3M1055.3 654.7H1056.0M1055.3 657.3H1064.7M1059.9 658.1V658.8M1059.9 658.1H1064.9M1059.9 658.8H1065.2M1058.2 658.4V659.6M1058.2 658.4H1059.9M1058.2 659.6H1064.7M1056.7 659.0V660.3M1056.7 659.0H1058.2M1056.7 660.3H1064.8M1053.7 656.0V659.7M1053.7 656.0H1055.3M1053.7 659.7H1056.7M1053.2 645.4V657.8M1053.2 645.4H1053.6M1053.2 657.8H1053.7M1052.7 651.6V661.1M1052.7 651.6H1053.2M1052.7 661.1H1065.3M1052.6 656.3V661.8M1052.6 656.3H1052.7M1052.6 661.8H1065.0M1058.6 662.6V663.3M1058.6 662.6H1065.1M1058.6 663.3H1064.9M1056.9 664.1V664.8M1056.9 664.1H1065.5M1056.9 664.8H1064.9M1056.2 662.9V664.4M1056.2 662.9H1058.6M1056.2 664.4H1056.9M1054.7 665.6V666.3M1054.7 665.6H1065.0M1054.7 666.3H1065.1M1053.6 663.7V665.9M1053.6 663.7H1056.2M1053.6 665.9H1054.7M1052.4 659.1V664.8M1052.4 659.1H1052.6M1052.4 664.8H1053.6M1054.0 667.0V667.8M1054.0 667.0H1064.7M1054.0 667.8H1065.0M1052.1 661.9V667.4M1052.1 661.9H1052.4M1052.1 667.4H1054.0M1058.3 668.5V669.3M1058.3 668.5H1065.2M1058.3 669.3H1065.0M1056.3 668.9V670.0M1056.3 668.9H1058.3M1056.3 670.0H1064.9M1055.0 669.5V670.8M1055.0 669.5H1056.3M1055.0 670.8H1065.5M1053.6 670.1V671.5M1053.6 670.1H1055.0M1053.6 671.5H1065.1M1051.8 664.7V670.8M1051.8 664.7H1052.1M1051.8 670.8H1053.6M1051.4 667.8V672.3M1051.4 667.8H1051.8M1051.4 672.3H1064.9M1051.2 670.0V673.0M1051.2 670.0H1051.4M1051.2 673.0H1065.4M1051.1 671.5V673.8M1051.1 671.5H1051.2M1051.1 673.8H1065.1M1050.9 672.7V674.5M1050.9 672.7H1051.1M1050.9 674.5H1065.0M1054.6 675.3V676.0M1054.6 675.3H1065.1M1054.6 676.0H1065.3M1050.7 673.6V675.7M1050.7 673.6H1050.9M1050.7 675.7H1054.6M1050.4 674.6V676.8M1050.4 674.6H1050.7M1050.4 676.8H1065.0M1059.4 677.5V678.3M1059.4 677.5H1064.7M1059.4 678.3H1065.2M1058.6 679.0V679.8M1058.6 679.0H1065.3M1058.6 679.8H1065.4M1057.7 677.9V679.4M1057.7 677.9H1059.4M1057.7 679.4H1058.6M1056.5 680.5V681.3M1056.5 680.5H1064.9M1056.5 681.3H1065.5M1056.4 678.6V680.9M1056.4 678.6H1057.7M1055.7 679.8V682.0M1055.7 679.8H1056.4M1055.7 682.0H1065.3M1055.3 680.9V682.8M1055.3 680.9H1055.7M1055.3 682.8H1064.8M1054.9 681.8V683.5M1054.9 681.8H1055.3M1054.9 683.5H1064.9M1058.0 684.3V685.0M1058.0 684.3H1065.2M1058.0 685.0H1065.0M1054.7 684.6V685.8M1054.7 684.6H1058.0M1054.7 685.8H1065.2M1054.3 682.7V685.2M1054.3 682.7H1054.9M1054.3 685.2H1054.7M1053.7 683.9V686.5M1053.7 683.9H1054.3M1053.7 686.5H1065.2M1053.2 685.2V687.3M1053.2 685.2H1053.7M1053.2 687.3H1065.3M1049.5 675.7V686.2M1049.5 675.7H1050.4M1049.5 686.2H1053.2M1049.2 681.0V688.0M1049.2 681.0H1049.5M1049.2 688.0H1064.7M1049.2 684.5V688.1M1046.9 688.8V689.6M1046.9 688.8H1065.3M1046.9 689.6H1064.6M1046.8 689.2V690.4M1046.8 689.2H1046.9M1046.8 690.4H1064.9M1046.6 689.8V691.2M1046.6 689.8H1046.8M1046.6 691.2H1065.2M1055.0 692.0V692.8M1055.0 692.0H1065.1M1055.0 692.8H1065.2M1050.4 692.4V693.6M1050.4 692.4H1055.0M1050.4 693.6H1064.7M1046.0 690.5V693.0M1046.0 690.5H1046.6M1046.0 693.0H1050.4M1046.0 691.8V693.0M1042.4 693.0H1046.0M1053.0 695.1V695.9M1053.0 695.1H1065.3M1053.0 695.9H1065.4M1047.4 695.5V696.8M1047.4 695.5H1053.0M1047.4 696.8H1065.0M1041.8 694.2V696.1M1041.8 694.2H1065.4M1041.8 696.1H1047.4M1041.4 695.2V697.7M1041.4 695.2H1041.8M1041.4 697.7H1065.3M1041.3 696.4V698.5M1041.3 696.4H1041.4M1041.3 698.5H1064.9M1041.0 697.5V699.4M1041.0 697.5H1041.3M1041.0 699.4H1064.6M1041.0 698.4V698.5M1031.2 698.5H1041.0M1029.3 700.0V700.8M1029.3 700.0H1064.7M1029.3 700.8H1065.2M1029.0 700.4V701.6M1029.0 700.4H1029.3M1029.0 701.6H1065.4M1028.6 701.0V702.4M1028.6 701.0H1029.0M1028.6 702.4H1064.7M1028.6 701.7V703.2M1028.6 703.2H1064.8M1028.6 702.5V704.0M1028.6 704.0H1065.4M1045.9 704.8V705.7M1045.9 704.8H1065.3M1045.9 705.7H1065.5M1037.0 705.2V706.5M1037.0 705.2H1045.9M1037.0 706.5H1065.5M1028.6 703.3V705.9M1028.6 705.9H1037.0M1028.6 704.6V707.3M1028.6 707.3H1065.3M1042.6 708.1V708.9M1042.6 708.1H1065.4M1042.6 708.9H1064.7M1038.5 709.7V710.5M1038.5 709.7H1065.3M1038.5 710.5H1065.0M1029.1 708.5V710.1M1029.1 708.5H1042.6M1029.1 710.1H1038.5M1028.6 705.9V709.3M1028.6 709.3H1029.1M1028.6 707.6V709.9M1026.0 709.9H1028.6M1020.4 709.4H1028.6M1016.1 732.2H1026.7M1026.7 726.1V740.6M1026.7 726.1H1030.6M1030.6 722.4V731.9M1030.6 722.4H1034.2M1034.2 717.3V725.3M1034.2 717.3H1037.3M1037.3 713.8V720.1M1037.3 713.8H1056.8M1037.3 720.1H1046.0M1062.0 711.2V712.0M1062.0 711.2H1065.2M1062.0 712.0H1065.3M1060.9 712.7V713.5M1060.9 712.7H1064.7M1060.9 713.5H1065.0M1060.1 711.6V713.1M1060.1 711.6H1062.0M1060.1 713.1H1060.9M1060.6 714.2V715.0M1060.6 714.2H1064.7M1060.6 715.0H1065.2M1058.5 712.3V714.6M1058.5 712.3H1060.1M1058.5 714.6H1060.6M1057.6 713.5V715.7M1057.6 713.5H1058.5M1057.6 715.7H1065.1M1056.8 714.6V716.5M1056.8 714.6H1057.6M1056.8 716.5H1064.9M1056.8 713.8V715.6M1057.2 717.2V718.0M1057.2 717.2H1065.2M1057.2 718.0H1064.9M1053.2 717.6V718.7M1053.2 717.6H1057.2M1053.2 718.7H1065.5M1050.6 718.2V719.5M1050.6 718.2H1053.2M1050.6 719.5H1065.1M1049.3 720.2V721.0M1049.3 720.2H1064.8M1049.3 721.0H1065.4M1046.0 718.8V720.6M1046.0 718.8H1050.6M1046.0 720.6H1049.3M1046.0 719.7V720.1M1034.2 725.3H1037.3M1039.3 721.6V722.4M1039.3 721.6H1064.6M1039.3 722.4H1065.4M1037.8 722.0V723.2M1037.8 722.0H1039.3M1037.8 723.2H1065.1M1037.3 722.6V724.0M1037.3 722.6H1037.8M1037.3 724.0H1065.0M1037.3 723.3V724.8M1037.3 724.8H1065.0M1041.0 725.6V726.4M1041.0 725.6H1064.7M1041.0 726.4H1065.1M1037.3 724.0V726.0M1037.3 726.0H1041.0M1041.6 727.2V728.0M1041.6 727.2H1065.4M1041.6 728.0H1065.5M1037.3 725.0V727.6M1037.3 727.6H1041.6M1048.4 728.8V729.6M1048.4 728.8H1064.7M1048.4 729.6H1065.5M1040.7 729.2V730.4M1040.7 729.2H1048.4M1040.7 730.4H1065.1M1037.3 726.3V729.8M1037.3 729.8H1040.7M1037.3 728.1V731.2M1037.3 731.2H1064.8M1037.3 725.3V729.6M1030.6 731.9H1049.0M1056.0 731.6V732.5M1056.0 731.6H1065.4M1056.0 732.5H1064.9M1049.0 732.0V733.4M1049.0 732.0H1056.0M1049.0 733.4H1065.5M1049.0 731.9V732.7M1026.7 734.5H1065.2M1031.0 736.5H1065.2M1031.0 738.4H1065.2M1031.0 734.5V738.4M1026.7 740.6H1065.2M1060.7 733.8V734.6M1060.7 733.8H1064.6M1060.7 734.6H1065.5M1058.7 734.2V735.3M1058.7 734.2H1060.7M1058.7 735.3H1064.8M1058.1 736.1V736.8M1058.1 736.1H1064.6M1058.1 736.8H1064.8M1057.0 734.8V736.5M1057.0 734.8H1058.7M1057.0 736.5H1058.1M1056.7 737.6V738.4M1056.7 737.6H1065.5M1056.7 738.4H1065.2M1055.2 735.6V738.0M1055.2 735.6H1057.0M1055.2 738.0H1056.7M1054.1 736.8V739.1M1054.1 736.8H1055.2M1054.1 739.1H1064.9M1058.5 739.9V740.6M1058.5 739.9H1065.5M1058.5 740.6H1064.9M1055.4 740.3V741.4M1055.4 740.3H1058.5M1055.4 741.4H1065.0M1052.0 738.0V740.8M1052.0 738.0H1054.1M1052.0 740.8H1055.4M1052.0 736.5V739.4M1021.5 742.1H1065.2M1021.5 743.2H1065.4M1021.5 744.3H1065.1M1021.5 745.4H1064.8M1021.5 742.1V745.4M1016.1 744.0H1020.9M1020.9 742.7V745.5M1020.9 742.7H1065.2M1020.9 745.5H1065.2M1040.0 744.6H1065.2M1047.0 743.6H1065.2M1059.4 688.5H1065.3M1059.4 689.3H1064.7M1059.4 690.1H1065.0M1059.4 690.9H1065.0M1059.4 691.7H1064.7M1059.4 692.5H1065.4M1059.4 693.3H1065.3M1059.4 694.1H1065.1M1059.4 694.9H1065.5M1059.4 695.7H1065.3M1059.4 696.5H1065.2M1059.4 697.3H1065.4M1059.4 698.2H1065.2M1059.4 699.0H1065.0M1059.4 699.8H1065.5M1059.4 700.6H1065.3M1059.4 701.4H1064.9M1059.4 702.2H1065.2M1059.4 703.0H1064.9M1059.4 703.8H1065.1M1059.4 704.6H1064.8M1059.4 705.4H1065.4M1059.4 706.2H1065.2M1059.4 707.0H1065.3M1059.4 707.8H1065.3M1059.4 708.6H1065.1M1059.4 709.4H1065.2M1059.4 710.2H1065.3M1059.4 711.0H1065.4M1059.4 711.8H1065.2M1059.4 712.6H1065.5M1059.4 713.4H1065.3M1059.4 714.2H1064.9M1059.4 715.0H1065.4M1059.4 715.8H1064.8M1059.4 716.6H1064.8M1059.4 717.4H1065.3M1059.4 718.2H1065.1M1059.4 719.0H1065.0M1059.4 719.8H1065.1M1059.4 720.6H1064.7M1059.4 721.4H1065.3M1059.4 722.2H1065.5M1059.4 723.0H1064.8M1059.4 723.8H1065.3M1059.4 724.6H1065.0M1059.4 725.4H1065.1M1059.4 726.2H1065.3M1059.4 727.0H1065.5M1059.4 727.8H1064.9M1059.4 728.6H1064.9M1059.4 729.4H1065.3M1059.4 730.2H1065.4M1059.4 731.0H1065.3M1059.4 731.8H1065.3M1059.4 732.6H1064.9M1059.4 733.4H1064.8M1059.4 734.2H1064.8M1059.4 735.0H1065.3M1059.4 735.8H1064.7M1059.4 736.7H1064.8M1059.4 737.5H1065.1M1059.4 738.3H1064.9M1059.4 739.1H1065.1M1059.4 739.9H1064.7M1059.4 740.7H1065.3M1059.4 741.5H1064.8M1059.4 742.3H1065.4M1059.4 743.1H1064.9M1059.4 743.9H1064.7M1059.4 744.7H1064.8M1059.4 745.5H1065.0M1059.4 688.5V745.5" stroke="#C7E9C0" stroke-width="1.15" fill="none" stroke-linecap="square"/>
<path d="M929.9 474.0V596.0M929.9 596.0H943.5M943.5 586.1V600.0M943.5 586.1H952.7M952.7 568.4V592.9M952.7 568.4H1031.7M1031.7 556.5V580.4M1031.7 556.5H1036.7M1036.7 539.3V564.2M1036.7 539.3H1048.0M1036.7 556.7H1050.8M1036.7 564.2H1055.8M1061.4 523.0V523.9M1061.4 523.0H1065.0M1061.4 523.9H1065.0M1060.7 524.9V525.8M1060.7 524.9H1065.1M1060.7 525.8H1065.5M1058.1 523.5V525.3M1058.1 523.5H1061.4M1058.1 525.3H1060.7M1054.7 524.4V526.7M1054.7 524.4H1058.1M1054.7 526.7H1065.2M1054.1 527.7V528.6M1054.1 527.7H1065.0M1054.1 528.6H1064.6M1052.6 525.6V528.2M1052.6 525.6H1054.7M1052.6 528.2H1054.1M1059.7 529.6V530.5M1059.7 529.6H1065.1M1059.7 530.5H1065.4M1057.2 530.0V531.4M1057.2 530.0H1059.7M1057.2 531.4H1065.0M1049.2 526.9V530.7M1049.2 526.9H1052.6M1049.2 530.7H1057.2M1055.8 532.4V533.3M1055.8 532.4H1065.1M1055.8 533.3H1064.9M1051.5 532.8V534.2M1051.5 532.8H1055.8M1051.5 534.2H1065.3M1048.7 528.8V533.5M1048.7 528.8H1049.2M1048.7 533.5H1051.5M1056.6 535.2V536.1M1056.6 535.2H1065.4M1056.6 536.1H1065.4M1053.9 535.6V537.0M1053.9 535.6H1056.6M1053.9 537.0H1065.2M1051.4 536.3V538.0M1051.4 536.3H1053.9M1051.4 538.0H1065.0M1048.4 531.2V537.2M1048.4 531.2H1048.7M1048.4 537.2H1051.4M1048.2 534.2V538.9M1048.2 534.2H1048.4M1048.2 538.9H1064.7M1055.5 539.9V540.8M1055.5 539.9H1064.6M1055.5 540.8H1064.8M1048.0 536.5V540.3M1048.0 536.5H1048.2M1048.0 540.3H1055.5M1050.0 541.7V542.7M1050.0 541.7H1065.4M1050.0 542.7H1064.8M1048.0 538.4V542.2M1048.0 542.2H1050.0M1048.0 540.3V543.6M1048.0 543.6H1065.3M1048.0 539.3V542.0M1057.4 544.4V545.3M1057.4 544.4H1065.2M1057.4 545.3H1065.1M1056.2 544.9V546.3M1056.2 544.9H1057.4M1056.2 546.3H1065.1M1060.2 547.2V548.1M1060.2 547.2H1065.3M1060.2 548.1H1065.1M1057.8 547.6V549.0M1057.8 547.6H1060.2M1057.8 549.0H1065.5M1054.7 545.6V548.3M1054.7 545.6H1056.2M1054.7 548.3H1057.8M1059.7 550.0V550.9M1059.7 550.0H1065.5M1059.7 550.9H1064.6M1057.9 550.4V551.8M1057.9 550.4H1059.7M1057.9 551.8H1065.3M1056.4 551.1V552.7M1056.4 551.1H1057.9M1056.4 552.7H1064.8M1052.4 546.9V551.9M1052.4 546.9H1054.7M1052.4 551.9H1056.4M1054.1 553.7V554.6M1054.1 553.7H1065.3M1054.1 554.6H1065.2M1051.4 549.4V554.1M1051.4 549.4H1052.4M1051.4 554.1H1054.1M1060.6 555.5V556.4M1060.6 555.5H1064.9M1060.6 556.4H1065.3M1059.2 556.0V557.4M1059.2 556.0H1060.6M1059.2 557.4H1064.7M1060.3 558.3V559.2M1060.3 558.3H1065.5M1060.3 559.2H1065.4M1057.4 556.7V558.8M1057.4 556.7H1059.2M1057.4 558.8H1060.3M1051.2 551.8V557.7M1051.2 551.8H1051.4M1051.2 557.7H1057.4M1056.2 560.1V561.1M1056.2 560.1H1065.3M1056.2 561.1H1065.2M1050.9 554.7V560.6M1050.9 554.7H1051.2M1050.9 560.6H1056.2M1050.8 557.7V562.0M1050.8 557.7H1050.9M1050.8 562.0H1064.8M1050.8 556.7V559.8M1061.0 562.6V563.6M1061.0 562.6H1065.1M1061.0 563.6H1065.0M1058.8 563.1V564.6M1058.8 563.1H1061.0M1058.8 564.6H1064.6M1058.0 565.6V566.6M1058.0 565.6H1065.2M1058.0 566.6H1065.4M1055.8 563.9V566.1M1055.8 563.9H1058.8M1055.8 566.1H1058.0M1055.8 564.2V565.0M1031.7 580.4H1037.4M1037.4 571.2V586.0M1037.4 571.2H1041.6M1037.4 586.0H1049.0M1050.3 567.2V568.2M1050.3 567.2H1064.9M1050.3 568.2H1065.3M1046.6 567.7V569.1M1046.6 567.7H1050.3M1046.6 569.1H1065.3M1045.8 570.1V571.0M1045.8 570.1H1064.7M1045.8 571.0H1065.0M1043.3 568.4V570.5M1043.3 568.4H1046.6M1043.3 570.5H1045.8M1052.7 572.0V572.9M1052.7 572.0H1065.0M1052.7 572.9H1065.1M1054.8 573.9V574.9M1054.8 573.9H1064.9M1054.8 574.9H1065.2M1045.3 572.5V574.4M1045.3 572.5H1052.7M1045.3 574.4H1054.8M1041.6 569.5V573.4M1041.6 569.5H1043.3M1041.6 573.4H1045.3M1041.6 571.4V575.8M1041.6 575.8H1065.5M1041.6 573.6V576.8M1041.6 576.8H1064.8M1057.6 578.7V579.6M1057.6 578.7H1064.9M1057.6 579.6H1064.7M1055.2 579.2V580.6M1055.2 579.2H1057.6M1055.2 580.6H1065.5M1053.1 579.9V581.5M1053.1 579.9H1055.2M1053.1 581.5H1064.7M1048.8 577.7V580.7M1048.8 577.7H1065.1M1048.8 580.7H1053.1M1043.7 579.2V582.5M1043.7 579.2H1048.8M1043.7 582.5H1065.1M1041.6 575.2V580.9M1041.6 580.9H1043.7M1041.6 571.2V578.0M1059.6 584.0V584.8M1059.6 584.0H1065.0M1059.6 584.8H1064.7M1057.0 584.4V585.7M1057.0 584.4H1059.6M1057.0 585.7H1064.8M1055.3 583.1V585.0M1055.3 583.1H1065.5M1055.3 585.0H1057.0M1051.2 584.1V586.5M1051.2 584.1H1055.3M1051.2 586.5H1064.7M1049.0 585.3V587.4M1049.0 585.3H1051.2M1049.0 587.4H1064.7M1049.0 586.0V586.4M952.7 592.9H1065.2M952.7 588.5H1065.2M952.7 589.3H1065.3M952.7 590.1H1065.4M952.7 588.5V590.1M969.4 592.4H1065.3M969.4 593.0H1065.5M969.4 592.4V593.0M943.5 600.0H1065.2M943.5 598.4H1065.5M943.5 599.2H1064.8M943.5 600.0H1064.9M943.5 598.4V600.0M1061.5 523.6H1065.1M1061.5 524.5H1065.3M1061.5 525.3H1065.0M1061.5 526.2H1065.0M1061.5 527.0H1065.2M1061.5 527.9H1065.2M1061.5 528.7H1065.5M1061.5 529.6H1064.8M1061.5 530.4H1065.3M1061.5 531.3H1064.8M1061.5 532.1H1065.0M1061.5 533.0H1065.4M1061.5 533.8H1064.9M1061.5 534.7H1065.3M1061.5 535.5H1065.2M1061.5 536.4H1065.0M1061.5 537.2H1065.1M1061.5 538.1H1065.0M1061.5 538.9H1065.2M1061.5 539.8H1064.9M1061.5 540.6H1065.1M1061.5 541.5H1065.1M1061.5 542.3H1065.4M1061.5 543.2H1065.0M1061.5 544.0H1064.7M1061.5 544.9H1065.0M1061.5 545.7H1064.9M1061.5 546.6H1065.0M1061.5 547.4H1064.7M1061.5 548.3H1065.5M1061.5 549.2H1065.1M1061.5 550.0H1064.9M1061.5 550.9H1065.2M1061.5 551.7H1064.7M1061.5 552.6H1065.3M1061.5 553.4H1065.2M1061.5 554.3H1065.2M1061.5 555.1H1064.7M1061.5 556.0H1065.3M1061.5 556.8H1065.4M1061.5 557.7H1065.4M1061.5 558.5H1065.5M1061.5 559.4H1065.4M1061.5 560.2H1065.3M1061.5 561.1H1065.5M1061.5 561.9H1064.9M1061.5 562.8H1064.9M1061.5 563.6H1064.9M1061.5 564.5H1064.8M1061.5 565.3H1065.1M1061.5 566.2H1065.0M1061.5 567.0H1065.4M1061.5 567.9H1064.7M1061.5 568.7H1065.5M1061.5 569.6H1064.8M1061.5 570.4H1065.4M1061.5 571.3H1064.7M1061.5 572.1H1065.0M1061.5 573.0H1065.3M1061.5 573.8H1065.3M1061.5 574.7H1065.1M1061.5 575.6H1065.3M1061.5 576.4H1064.8M1061.5 577.3H1065.0M1061.5 578.1H1065.1M1061.5 579.0H1065.5M1061.5 579.8H1065.2M1061.5 580.7H1065.1M1061.5 581.5H1064.8M1061.5 582.4H1065.3M1061.5 583.2H1065.3M1061.5 584.1H1065.1M1061.5 584.9H1065.3M1061.5 585.8H1065.1M1061.5 586.6H1065.0M1061.5 587.5H1064.7M1061.5 588.3H1065.1M1061.5 589.2H1065.4M1061.5 590.0H1065.1M1061.5 590.9H1065.4M1061.5 591.7H1065.5M1061.5 592.6H1064.8M1061.5 593.4H1064.8M1061.5 594.3H1065.3M1061.5 595.1H1065.0M1061.5 596.0H1064.9M1061.5 596.8H1065.4M1061.5 597.7H1065.0M1061.5 598.5H1065.2M1061.5 599.4H1065.1M1061.5 523.6V599.4" stroke="#A1D99B" stroke-width="1.3" fill="none" stroke-linecap="square"/>
<path d="M932.5 351.0V481.2M932.5 481.2H945.8M945.8 445.0V515.8M945.8 445.0H949.3M949.3 412.5V472.5M949.3 412.5H968.3M968.3 410.3V415.3M968.3 410.3H992.5M992.5 407.0V413.0M992.5 407.0H996.3M996.3 404.2V409.7M996.3 404.2H1019.8M1019.8 392.3V405.8M1019.8 405.8H1065.2M1019.8 392.3H1029.9M1029.9 360.6V404.9M1029.9 404.9H1031.3M1029.9 360.6H1033.5M1033.5 341.7V379.2M1033.5 341.7H1039.4M1033.5 379.2H1044.8M1060.8 297.8V298.8M1060.8 297.8H1064.9M1060.8 298.8H1064.7M1059.1 299.7V300.7M1059.1 299.7H1065.2M1059.1 300.7H1065.2M1057.1 298.3V300.2M1057.1 298.3H1060.8M1057.1 300.2H1059.1M1057.5 301.6V302.6M1057.5 301.6H1065.0M1057.5 302.6H1065.0M1053.5 299.2V302.1M1053.5 299.2H1057.1M1053.5 302.1H1057.5M1058.3 303.5V304.5M1058.3 303.5H1065.1M1058.3 304.5H1065.3M1055.2 304.0V305.4M1055.2 304.0H1058.3M1055.2 305.4H1065.3M1050.9 300.7V304.7M1050.9 300.7H1053.5M1050.9 304.7H1055.2M1050.6 302.7V306.4M1050.6 302.7H1050.9M1050.6 306.4H1065.3M1058.9 307.3V308.3M1058.9 307.3H1065.1M1058.9 308.3H1065.1M1057.0 307.8V309.2M1057.0 307.8H1058.9M1057.0 309.2H1065.4M1055.2 308.5V310.2M1055.2 308.5H1057.0M1055.2 310.2H1065.5M1050.3 304.5V309.3M1050.3 304.5H1050.6M1050.3 309.3H1055.2M1049.9 306.9V311.1M1049.9 306.9H1050.3M1049.9 311.1H1065.2M1049.8 309.0V312.1M1049.8 309.0H1049.9M1049.8 312.1H1064.9M1049.7 310.6V313.0M1049.7 310.6H1049.8M1049.7 313.0H1065.0M1049.5 311.8V314.0M1049.5 311.8H1049.7M1049.5 314.0H1064.9M1049.4 312.9V314.9M1049.4 312.9H1049.5M1049.4 314.9H1065.0M1059.5 316.8V317.8M1059.5 316.8H1065.5M1059.5 317.8H1064.8M1057.0 317.3V318.7M1057.0 317.3H1059.5M1057.0 318.7H1064.7M1055.7 315.9V318.0M1055.7 315.9H1065.0M1055.7 318.0H1057.0M1057.8 319.7V320.6M1057.8 319.7H1065.2M1057.8 320.6H1065.2M1054.4 320.2V321.6M1054.4 320.2H1057.8M1054.4 321.6H1064.8M1051.3 317.0V320.9M1051.3 317.0H1055.7M1051.3 320.9H1054.4M1047.7 313.9V318.9M1047.7 313.9H1049.4M1047.7 318.9H1051.3M1061.4 324.5V325.4M1061.4 324.5H1064.8M1061.4 325.4H1065.1M1059.7 324.9V326.4M1059.7 324.9H1061.4M1059.7 326.4H1064.8M1054.9 323.5V325.6M1054.9 323.5H1065.1M1054.9 325.6H1059.7M1054.1 322.6V324.6M1054.1 322.6H1064.9M1054.1 324.6H1054.9M1057.1 327.3V328.3M1057.1 327.3H1064.9M1057.1 328.3H1065.4M1054.7 329.2V330.2M1054.7 329.2H1065.2M1054.7 330.2H1065.5M1052.4 327.8V329.7M1052.4 327.8H1057.1M1052.4 329.7H1054.7M1048.9 323.6V328.7M1048.9 323.6H1054.1M1048.9 328.7H1052.4M1046.4 316.4V326.2M1046.4 316.4H1047.7M1046.4 326.2H1048.9M1056.6 331.1V332.1M1056.6 331.1H1065.5M1056.6 332.1H1065.0M1057.7 333.0V334.0M1057.7 333.0H1064.8M1057.7 334.0H1065.0M1053.9 331.6V333.5M1053.9 331.6H1056.6M1053.9 333.5H1057.7M1054.6 334.9V335.9M1054.6 334.9H1064.7M1054.6 335.9H1065.3M1051.8 332.6V335.4M1051.8 332.6H1053.9M1051.8 335.4H1054.6M1050.6 334.0V336.8M1050.6 334.0H1051.8M1050.6 336.8H1065.0M1058.9 337.8V338.7M1058.9 337.8H1064.8M1058.9 338.7H1065.5M1056.0 338.3V339.7M1056.0 338.3H1058.9M1056.0 339.7H1065.3M1048.4 335.4V339.0M1048.4 335.4H1050.6M1048.4 339.0H1056.0M1046.0 321.3V337.2M1046.0 321.3H1046.4M1046.0 337.2H1048.4M1041.3 329.2V340.6M1041.3 329.2H1046.0M1041.3 340.6H1065.4M1040.4 334.9V341.6M1040.4 334.9H1041.3M1040.4 341.6H1065.1M1039.4 338.3V342.5M1039.4 338.3H1040.4M1039.4 342.5H1064.7M1039.4 340.4V343.5M1039.4 343.5H1065.0M1039.4 341.7V342.0M1062.8 344.3V345.2M1062.8 344.3H1065.2M1062.8 345.2H1065.5M1061.2 346.2V347.1M1061.2 346.2H1065.1M1061.2 347.1H1064.7M1060.4 344.8V346.7M1060.4 344.8H1062.8M1060.4 346.7H1061.2M1057.8 345.7V348.1M1057.8 345.7H1060.4M1057.8 348.1H1064.7M1061.6 349.0V350.0M1061.6 349.0H1065.5M1061.6 350.0H1065.1M1060.0 349.5V350.9M1060.0 349.5H1061.6M1060.0 350.9H1065.1M1055.6 346.9V350.2M1055.6 346.9H1057.8M1055.6 350.2H1060.0M1053.6 348.5V351.8M1053.6 348.5H1055.6M1053.6 351.8H1064.9M1052.8 350.2V352.8M1052.8 350.2H1053.6M1052.8 352.8H1065.3M1052.5 351.5V353.7M1052.5 351.5H1052.8M1052.5 353.7H1064.8M1059.5 354.7V355.6M1059.5 354.7H1065.3M1059.5 355.6H1064.7M1058.0 355.1V356.6M1058.0 355.1H1059.5M1058.0 356.6H1065.5M1057.0 355.8V357.5M1057.0 355.8H1058.0M1057.0 357.5H1064.7M1056.6 358.4V359.4M1056.6 358.4H1065.0M1056.6 359.4H1065.2M1055.2 356.7V358.9M1055.2 356.7H1057.0M1055.2 358.9H1056.6M1051.5 352.6V357.8M1051.5 352.6H1052.5M1051.5 357.8H1055.2M1050.3 355.2V360.3M1050.3 355.2H1051.5M1050.3 360.3H1065.4M1052.3 361.3V362.2M1052.3 361.3H1064.7M1052.3 362.2H1065.1M1050.1 357.8V361.7M1050.1 357.8H1050.3M1050.1 361.7H1052.3M1050.0 359.7V363.1M1050.0 359.7H1050.1M1050.0 363.1H1064.8M1049.9 361.4V364.1M1049.9 361.4H1050.0M1049.9 364.1H1064.9M1049.9 362.8V365.0M1049.9 362.8H1049.9M1049.9 365.0H1064.6M1049.8 363.9V366.0M1049.8 363.9H1049.9M1049.8 366.0H1065.3M1049.8 364.9V366.9M1049.8 364.9H1049.8M1049.8 366.9H1064.7M1049.7 365.9V367.9M1049.7 365.9H1049.8M1049.7 367.9H1065.3M1058.6 368.8V369.7M1058.6 368.8H1064.7M1058.6 369.7H1065.0M1058.6 370.7V371.6M1058.6 370.7H1064.7M1058.6 371.6H1065.2M1056.5 369.3V371.2M1056.5 369.3H1058.6M1056.5 371.2H1058.6M1058.9 372.6V373.5M1058.9 372.6H1064.6M1058.9 373.5H1065.5M1054.9 370.2V373.0M1054.9 370.2H1056.5M1054.9 373.0H1058.9M1058.8 374.5V375.4M1058.8 374.5H1065.4M1058.8 375.4H1065.2M1057.1 376.3V377.3M1057.1 376.3H1065.1M1057.1 377.3H1065.3M1055.0 374.9V376.8M1055.0 374.9H1058.8M1055.0 376.8H1057.1M1052.3 371.6V375.9M1052.3 371.6H1054.9M1052.3 375.9H1055.0M1048.7 366.9V373.8M1048.7 366.9H1049.7M1048.7 373.8H1052.3M1056.1 378.2V379.2M1056.1 378.2H1065.1M1056.1 379.2H1064.6M1051.9 378.7V380.1M1051.9 378.7H1056.1M1051.9 380.1H1065.3M1044.8 370.3V379.4M1044.8 370.3H1048.7M1044.8 379.4H1051.9M1044.8 374.9V381.1M1044.8 381.1H1065.3M1044.8 378.0V382.0M1044.8 382.0H1065.4M1044.8 379.2V380.0M1061.7 382.8V383.8M1061.7 382.8H1065.5M1061.7 383.8H1064.8M1059.3 383.3V384.7M1059.3 383.3H1061.7M1059.3 384.7H1064.8M1057.0 384.0V385.7M1057.0 384.0H1059.3M1057.0 385.7H1064.7M1054.8 384.9V386.7M1054.8 384.9H1057.0M1054.8 386.7H1065.5M1058.4 387.6V388.6M1058.4 387.6H1065.0M1058.4 388.6H1065.2M1058.6 389.6V390.5M1058.6 389.6H1065.2M1058.6 390.5H1064.7M1054.4 388.1V390.0M1054.4 388.1H1058.4M1054.4 390.0H1058.6M1051.0 385.8V389.1M1051.0 385.8H1054.8M1051.0 389.1H1054.4M1054.8 391.5V392.5M1054.8 391.5H1065.0M1054.8 392.5H1064.8M1051.2 393.4V394.4M1051.2 393.4H1065.4M1051.2 394.4H1065.4M1048.6 392.0V393.9M1048.6 392.0H1054.8M1048.6 393.9H1051.2M1044.7 387.4V392.9M1044.7 387.4H1051.0M1044.7 392.9H1048.6M1040.6 390.2V395.3M1040.6 390.2H1044.7M1040.6 395.3H1065.0M1038.4 392.8V396.3M1038.4 392.8H1040.6M1038.4 396.3H1064.9M1048.2 397.3V398.2M1048.2 397.3H1065.3M1048.2 398.2H1065.4M1043.2 397.8V399.2M1043.2 397.8H1048.2M1043.2 399.2H1065.2M1038.9 400.2V401.1M1038.9 400.2H1065.5M1038.9 401.1H1064.8M1036.5 398.5V400.7M1036.5 398.5H1043.2M1036.5 400.7H1038.9M1032.9 394.5V399.6M1032.9 394.5H1038.4M1032.9 399.6H1036.5M1044.8 402.1V403.1M1044.8 402.1H1064.9M1044.8 403.1H1064.7M1035.5 402.6V404.0M1035.5 402.6H1044.8M1035.5 404.0H1064.8M1031.9 397.1V403.3M1031.9 397.1H1032.9M1031.9 403.3H1035.5M1031.3 400.2V405.0M1031.3 400.2H1031.9M1031.3 405.0H1064.6M1031.3 402.6V404.9M996.3 409.7H1026.7M992.5 413.0H1065.2M968.3 415.3H1035.0M1035.0 405.6V406.5M1035.0 405.6H1064.6M1035.0 406.5H1065.0M1047.8 407.5V408.4M1047.8 407.5H1065.4M1047.8 408.4H1065.2M1035.0 406.1V407.9M1035.0 407.9H1047.8M1035.0 407.0V409.3M1035.0 409.3H1065.3M1049.2 410.3V411.2M1049.2 410.3H1065.3M1049.2 411.2H1065.0M1035.0 408.2V410.7M1035.0 410.7H1049.2M1054.0 412.1V413.1M1054.0 412.1H1065.1M1054.0 413.1H1065.3M1050.7 412.6V414.0M1050.7 412.6H1054.0M1050.7 414.0H1065.4M1048.1 414.9V415.9M1048.1 414.9H1065.5M1048.1 415.9H1064.8M1046.3 413.3V415.4M1046.3 413.3H1050.7M1046.3 415.4H1048.1M1035.0 409.5V414.4M1035.0 414.4H1046.3M1035.0 411.9V416.8M1035.0 416.8H1065.2M1055.5 417.7V418.7M1055.5 417.7H1064.7M1055.5 418.7H1064.6M1052.9 418.2V419.6M1052.9 418.2H1055.5M1052.9 419.6H1065.1M1051.4 418.9V420.5M1051.4 418.9H1052.9M1051.4 420.5H1065.5M1056.4 421.5V422.4M1056.4 421.5H1065.5M1056.4 422.4H1064.7M1049.6 419.7V421.9M1049.6 419.7H1051.4M1049.6 421.9H1056.4M1049.5 423.3V424.3M1049.5 423.3H1064.7M1049.5 424.3H1065.2M1047.0 420.8V423.8M1047.0 420.8H1049.6M1047.0 423.8H1049.5M1035.0 414.4V422.3M1035.0 422.3H1047.0M1035.0 418.3V425.2M1035.0 425.2H1065.3M1050.6 426.1V427.1M1050.6 426.1H1065.5M1050.6 427.1H1065.2M1043.8 426.6V428.0M1043.8 426.6H1050.6M1043.8 428.0H1065.1M1035.0 421.8V427.3M1035.0 427.3H1043.8M1035.0 415.3V424.5M949.3 422.8H984.2M984.2 420.0V424.2M984.2 420.0H992.5M992.5 417.8V421.7M992.5 417.8H1002.5M992.5 421.7H1065.2M984.2 424.2H1065.2M1003.3 418.2H1065.0M1003.3 419.1H1065.4M1003.3 420.0H1064.9M1003.3 420.9H1064.8M1003.3 421.8H1064.9M1003.3 422.7H1065.2M1003.3 423.6H1065.3M1003.3 418.2V423.6M949.3 426.7H975.0M975.0 425.8V428.0M975.0 425.8H1065.2M975.0 428.0H1065.2M949.3 472.5H953.3M953.3 460.3V478.0M953.3 460.3H1040.8M953.3 478.0H1065.2M1056.7 428.8V429.8M1056.7 428.8H1065.4M1056.7 429.8H1065.4M1056.0 429.3V430.7M1056.0 429.3H1056.7M1056.0 430.7H1065.2M1056.0 431.7V432.6M1056.0 431.7H1065.0M1056.0 432.6H1064.8M1055.0 430.0V432.1M1055.0 430.0H1056.0M1055.0 432.1H1056.0M1060.8 434.5V435.5M1060.8 434.5H1065.4M1060.8 435.5H1065.1M1058.8 435.0V436.4M1058.8 435.0H1060.8M1058.8 436.4H1064.6M1057.1 433.6V435.7M1057.1 433.6H1065.4M1057.1 435.7H1058.8M1053.0 431.1V434.6M1053.0 431.1H1055.0M1053.0 434.6H1057.1M1051.0 432.8V437.4M1051.0 432.8H1053.0M1051.0 437.4H1065.5M1050.2 435.1V438.3M1050.2 435.1H1051.0M1050.2 438.3H1065.3M1059.3 439.3V440.2M1059.3 439.3H1064.9M1059.3 440.2H1065.0M1056.6 439.7V441.2M1056.6 439.7H1059.3M1056.6 441.2H1065.4M1048.6 436.7V440.5M1048.6 436.7H1050.2M1048.6 440.5H1056.6M1047.2 438.6V442.1M1047.2 438.6H1048.6M1047.2 442.1H1065.1M1051.9 443.1V444.0M1051.9 443.1H1065.1M1051.9 444.0H1065.4M1046.2 440.4V443.5M1046.2 440.4H1047.2M1046.2 443.5H1051.9M1050.1 445.0V445.9M1050.1 445.0H1065.3M1050.1 445.9H1065.5M1044.8 441.9V445.4M1044.8 441.9H1046.2M1044.8 445.4H1050.1M1046.3 446.9V447.8M1046.3 446.9H1064.9M1046.3 447.8H1064.6M1043.5 443.7V447.4M1043.5 443.7H1044.8M1043.5 447.4H1046.3M1042.7 445.5V448.8M1042.7 445.5H1043.5M1042.7 448.8H1065.3M1056.5 449.7V450.7M1056.5 449.7H1065.5M1056.5 450.7H1064.7M1059.0 452.6V453.5M1059.0 452.6H1065.3M1059.0 453.5H1065.1M1056.1 453.1V454.5M1056.1 453.1H1059.0M1056.1 454.5H1065.5M1054.3 451.6V453.8M1054.3 451.6H1065.0M1054.3 453.8H1056.1M1053.0 450.2V452.7M1053.0 450.2H1056.5M1053.0 452.7H1054.3M1050.9 451.5V455.4M1050.9 451.5H1053.0M1050.9 455.4H1065.1M1058.3 457.3V458.3M1058.3 457.3H1065.2M1058.3 458.3H1064.7M1055.1 457.8V459.2M1055.1 457.8H1058.3M1055.1 459.2H1065.4M1053.4 456.4V458.5M1053.4 456.4H1065.4M1053.4 458.5H1055.1M1049.6 453.4V457.5M1049.6 453.4H1050.9M1049.6 457.5H1053.4M1048.3 455.5V460.2M1048.3 455.5H1049.6M1048.3 460.2H1064.9M1054.8 461.1V462.1M1054.8 461.1H1065.5M1054.8 462.1H1065.0M1047.2 457.8V461.6M1047.2 457.8H1048.3M1047.2 461.6H1054.8M1040.8 447.2V459.7M1040.8 447.2H1042.7M1040.8 459.7H1047.2M1040.8 453.4V463.0M1040.8 463.0H1065.4M1040.8 458.2V464.0M1040.8 464.0H1065.5M1040.8 460.3V461.1M999.2 467.4H1065.3M999.2 468.8H1065.1M999.2 470.2H1064.8M999.2 471.6H1065.4M999.2 473.0H1064.9M999.2 474.4H1065.0M999.2 475.8H1065.1M999.2 477.2H1064.7M999.2 478.6H1065.2M999.2 467.4V478.6M954.2 469.2V477.5M954.2 469.2H1065.2M967.5 472.0H1065.2M954.2 474.7H1065.2M954.2 477.5H1065.2M945.8 515.8H950.3M950.3 504.2V521.7M950.3 504.2H987.0M987.0 495.5V513.7M987.0 495.5H1030.0M1030.0 489.5V505.3M1030.0 489.5H1040.0M1040.0 486.7V492.2M1040.0 486.7H1052.5M1040.0 492.2H1052.5M1030.0 500.0H1046.7M1030.0 505.3H1065.2M1057.5 481.0V481.9M1057.5 481.0H1065.5M1057.5 481.9H1065.3M1056.5 481.5V482.9M1056.5 481.5H1057.5M1056.5 482.9H1064.8M1057.8 483.8V484.7M1057.8 483.8H1064.7M1057.8 484.7H1064.8M1055.2 482.2V484.3M1055.2 482.2H1056.5M1055.2 484.3H1057.8M1061.0 485.7V486.6M1061.0 485.7H1064.7M1061.0 486.6H1064.7M1059.1 486.1V487.5M1059.1 486.1H1061.0M1059.1 487.5H1065.5M1053.3 483.2V486.8M1053.3 483.2H1055.2M1053.3 486.8H1059.1M1052.5 485.0V488.5M1052.5 485.0H1053.3M1052.5 488.5H1065.3M1058.4 489.4V490.4M1058.4 489.4H1065.3M1058.4 490.4H1064.8M1052.5 486.8V489.9M1052.5 489.9H1058.4M1054.3 491.3V492.2M1054.3 491.3H1064.7M1054.3 492.2H1064.8M1052.5 488.3V491.8M1052.5 491.8H1054.3M1052.5 490.0V493.2M1052.5 493.2H1065.3M1052.5 491.6V494.1M1052.5 494.1H1065.1M1061.9 496.0V496.9M1061.9 496.0H1065.3M1061.9 496.9H1065.5M1060.3 496.4V497.8M1060.3 496.4H1061.9M1060.3 497.8H1064.9M1057.8 495.0V497.1M1057.8 495.0H1065.1M1057.8 497.1H1060.3M1056.1 496.1V498.8M1056.1 496.1H1057.8M1056.1 498.8H1064.8M1058.5 499.7V500.6M1058.5 499.7H1065.3M1058.5 500.6H1064.6M1055.3 497.4V500.2M1055.3 497.4H1056.1M1055.3 500.2H1058.5M1059.4 501.6V502.5M1059.4 501.6H1064.9M1059.4 502.5H1064.9M1054.3 498.8V502.0M1054.3 498.8H1055.3M1054.3 502.0H1059.4M1053.5 500.4V503.5M1053.5 500.4H1054.3M1053.5 503.5H1064.8M1052.5 492.8V501.9M1052.5 501.9H1053.5M1058.0 504.4V505.3M1058.0 504.4H1065.0M1058.0 505.3H1065.2M1052.5 497.4V504.9M1052.5 504.9H1058.0M1059.8 506.3V507.2M1059.8 506.3H1064.7M1059.8 507.2H1064.8M1058.1 506.7V508.1M1058.1 506.7H1059.8M1058.1 508.1H1065.0M1056.6 507.4V509.1M1056.6 507.4H1058.1M1056.6 509.1H1065.2M1052.5 501.1V508.2M1052.5 508.2H1056.6M1052.5 504.7V510.0M1052.5 510.0H1064.8M1052.5 489.5V507.3M1060.3 496.9V497.9M1060.3 496.9H1065.2M1060.3 497.9H1065.2M1058.1 497.4V498.8M1058.1 497.4H1060.3M1058.1 498.8H1065.4M1055.7 496.0V498.1M1055.7 496.0H1064.8M1055.7 498.1H1058.1M1056.1 499.8V500.7M1056.1 499.8H1065.2M1056.1 500.7H1065.1M1051.2 497.1V500.2M1051.2 497.1H1055.7M1051.2 500.2H1056.1M1049.3 498.6V501.6M1049.3 498.6H1051.2M1049.3 501.6H1065.5M1056.1 502.6V503.5M1056.1 502.6H1064.6M1056.1 503.5H1064.8M1046.7 500.1V503.0M1046.7 500.1H1049.3M1046.7 503.0H1056.1M1046.7 500.0V501.6M987.0 513.7H1040.0M1040.0 511.3V515.0M1040.0 511.3H1065.2M1040.0 515.0H1065.2M1040.0 512.5H1065.2M1046.0 513.6H1065.2M950.3 516.7H1065.2M950.3 521.7H1065.2M1035.0 520.6H1065.3M1035.0 521.7H1065.4M1035.0 520.6V521.7M1061.5 505.6H1065.2M1061.5 506.5H1064.9M1061.5 507.3H1065.2M1061.5 508.1H1065.2M1061.5 508.9H1065.4M1061.5 509.8H1065.1M1061.5 510.6H1065.3M1061.5 511.4H1065.4M1061.5 512.3H1065.2M1061.5 513.1H1064.8M1061.5 513.9H1065.2M1061.5 514.7H1065.3M1061.5 515.6H1065.3M1061.5 516.4H1065.0M1061.5 517.2H1065.0M1061.5 518.1H1065.5M1061.5 518.9H1064.7M1061.5 519.7H1065.0M1061.5 520.5H1064.9M1061.5 521.4H1064.9M1061.5 505.6V521.4M1062.5 298.6H1064.8M1062.5 299.5H1065.3M1062.5 300.3H1064.8M1062.5 301.2H1065.4M1062.5 302.0H1065.4M1062.5 302.9H1065.3M1062.5 303.7H1064.9M1062.5 304.6H1065.0M1062.5 305.4H1065.4M1062.5 306.3H1065.3M1062.5 307.1H1065.1M1062.5 308.0H1064.9M1062.5 308.8H1065.3M1062.5 309.7H1064.8M1062.5 310.5H1065.1M1062.5 311.4H1065.2M1062.5 312.2H1065.2M1062.5 313.1H1065.3M1062.5 313.9H1064.8M1062.5 314.8H1064.7M1062.5 315.6H1065.4M1062.5 316.5H1064.8M1062.5 317.3H1064.7M1062.5 318.2H1065.0M1062.5 319.0H1065.1M1062.5 319.9H1065.0M1062.5 320.7H1064.8M1062.5 321.6H1065.4M1062.5 322.4H1065.0M1062.5 323.3H1065.2M1062.5 324.1H1065.5M1062.5 325.0H1065.1M1062.5 325.8H1065.5M1062.5 326.7H1065.2M1062.5 327.5H1064.8M1062.5 328.4H1065.4M1062.5 329.2H1065.0M1062.5 330.1H1065.0M1062.5 330.9H1065.3M1062.5 331.8H1064.9M1062.5 332.6H1065.4M1062.5 333.5H1065.5M1062.5 334.3H1065.1M1062.5 335.2H1065.1M1062.5 336.0H1064.7M1062.5 336.9H1065.4M1062.5 337.7H1064.9M1062.5 338.6H1065.4M1062.5 339.4H1065.0M1062.5 340.3H1065.0M1062.5 341.1H1065.0M1062.5 342.0H1065.4M1062.5 342.8H1065.0M1062.5 343.7H1064.8M1062.5 344.5H1065.1M1062.5 345.4H1065.3M1062.5 346.2H1065.0M1062.5 347.1H1065.4M1062.5 347.9H1065.0M1062.5 348.8H1064.7M1062.5 349.6H1065.3M1062.5 350.5H1064.8M1062.5 351.3H1064.8M1062.5 352.2H1064.8M1062.5 353.0H1065.2M1062.5 353.9H1065.0M1062.5 354.7H1065.2M1062.5 355.6H1065.1M1062.5 356.4H1065.3M1062.5 357.3H1065.2M1062.5 358.1H1065.5M1062.5 359.0H1065.1M1062.5 359.8H1065.4M1062.5 360.7H1064.9M1062.5 361.5H1064.9M1062.5 362.4H1065.2M1062.5 363.2H1065.1M1062.5 364.1H1065.0M1062.5 364.9H1065.1M1062.5 365.8H1064.8M1062.5 366.6H1065.1M1062.5 367.5H1064.8M1062.5 368.3H1065.2M1062.5 369.2H1065.0M1062.5 370.0H1065.5M1062.5 370.9H1065.2M1062.5 371.7H1065.4M1062.5 372.6H1064.8M1062.5 373.4H1064.8M1062.5 374.3H1064.8M1062.5 375.1H1065.2M1062.5 376.0H1065.2M1062.5 376.8H1064.9M1062.5 377.7H1065.2M1062.5 378.5H1064.9M1062.5 379.4H1065.3M1062.5 380.2H1065.3M1062.5 381.1H1065.0M1062.5 381.9H1065.2M1062.5 382.8H1065.4M1062.5 383.6H1064.8M1062.5 384.5H1065.4M1062.5 385.3H1064.7M1062.5 386.2H1065.4M1062.5 387.0H1065.1M1062.5 387.9H1065.2M1062.5 388.7H1065.5M1062.5 389.6H1065.0M1062.5 390.4H1065.0M1062.5 391.3H1064.9M1062.5 392.1H1065.0M1062.5 393.0H1064.9M1062.5 393.8H1064.9M1062.5 394.7H1065.4M1062.5 395.5H1065.0M1062.5 396.4H1065.1M1062.5 397.2H1064.8M1062.5 398.1H1065.0M1062.5 398.9H1065.3M1062.5 399.8H1064.9M1062.5 400.6H1065.5M1062.5 401.5H1065.2M1062.5 402.3H1064.7M1062.5 403.2H1065.2M1062.5 404.0H1065.3M1062.5 404.9H1065.3M1062.5 405.7H1065.3M1062.5 406.6H1065.4M1062.5 407.4H1065.1M1062.5 408.3H1065.2M1062.5 409.1H1064.8M1062.5 410.0H1065.2M1062.5 410.9H1065.3M1062.5 411.7H1065.0M1062.5 412.6H1064.9M1062.5 413.4H1064.8M1062.5 414.3H1065.1M1062.5 415.1H1065.0M1062.5 416.0H1065.3M1062.5 416.8H1064.7M1062.5 417.7H1065.0M1062.5 418.5H1065.3M1062.5 419.4H1065.3M1062.5 420.2H1064.8M1062.5 421.1H1065.0M1062.5 421.9H1064.8M1062.5 422.8H1064.8M1062.5 423.6H1064.7M1062.5 424.5H1065.0M1062.5 425.3H1064.9M1062.5 426.2H1065.5M1062.5 427.0H1065.2M1062.5 427.9H1065.5M1062.5 428.7H1065.1M1062.5 429.6H1064.8M1062.5 430.4H1065.2M1062.5 431.3H1064.9M1062.5 432.1H1064.8M1062.5 433.0H1064.8M1062.5 433.8H1065.1M1062.5 434.7H1065.3M1062.5 435.5H1065.1M1062.5 436.4H1065.2M1062.5 437.2H1065.2M1062.5 438.1H1065.1M1062.5 438.9H1064.8M1062.5 439.8H1065.1M1062.5 440.6H1065.2M1062.5 441.5H1064.7M1062.5 442.3H1065.4M1062.5 443.2H1064.8M1062.5 444.0H1065.3M1062.5 444.9H1065.5M1062.5 445.7H1065.1M1062.5 446.6H1065.0M1062.5 447.4H1065.4M1062.5 448.3H1065.5M1062.5 449.1H1064.8M1062.5 450.0H1065.5M1062.5 450.8H1065.3M1062.5 451.7H1065.2M1062.5 452.5H1065.1M1062.5 453.4H1065.0M1062.5 454.2H1065.0M1062.5 455.1H1064.9M1062.5 455.9H1064.8M1062.5 456.8H1065.2M1062.5 457.6H1064.8M1062.5 458.5H1065.4M1062.5 459.3H1065.4M1062.5 460.2H1065.2M1062.5 461.0H1065.5M1062.5 461.9H1065.2M1062.5 462.7H1064.9M1062.5 463.6H1065.0M1062.5 464.4H1065.0M1062.5 465.3H1065.0M1062.5 466.1H1065.2M1062.5 467.0H1065.1M1062.5 467.8H1065.4M1062.5 468.7H1065.3M1062.5 469.5H1065.1M1062.5 470.4H1064.8M1062.5 471.2H1064.8M1062.5 472.1H1064.7M1062.5 472.9H1064.8M1062.5 473.8H1065.0M1062.5 474.6H1065.4M1062.5 475.5H1065.4M1062.5 476.3H1065.1M1062.5 477.2H1065.1M1062.5 478.0H1064.9M1062.5 478.9H1064.7M1062.5 479.7H1064.9M1062.5 480.6H1064.9M1062.5 481.4H1065.2M1062.5 482.3H1064.9M1062.5 483.1H1065.4M1062.5 484.0H1064.8M1062.5 484.8H1065.2M1062.5 485.7H1065.4M1062.5 486.5H1065.1M1062.5 487.4H1064.7M1062.5 488.2H1065.4M1062.5 489.1H1065.0M1062.5 489.9H1064.8M1062.5 490.8H1065.3M1062.5 491.6H1064.9M1062.5 492.5H1065.1M1062.5 493.3H1065.0M1062.5 494.2H1065.3M1062.5 495.0H1065.3M1062.5 495.9H1065.5M1062.5 496.7H1065.1M1062.5 497.6H1065.3M1062.5 498.4H1065.4M1062.5 499.3H1064.8M1062.5 500.1H1065.3M1062.5 501.0H1064.7M1062.5 501.8H1065.4M1062.5 502.7H1065.2M1062.5 503.5H1065.3M1062.5 504.4H1064.8M1062.5 505.2H1065.4M1062.5 506.1H1065.2M1062.5 506.9H1065.2M1062.5 507.8H1064.7M1062.5 508.6H1064.9M1062.5 509.5H1065.4M1062.5 510.3H1065.3M1062.5 511.2H1065.0M1062.5 512.0H1065.4M1062.5 512.9H1065.0M1062.5 513.7H1065.3M1062.5 514.6H1065.3M1062.5 515.4H1065.3M1062.5 516.3H1065.2M1062.5 517.1H1064.9M1062.5 518.0H1064.9M1062.5 518.8H1065.4M1062.5 519.7H1065.0M1062.5 520.5H1065.5M1062.5 521.4H1065.5M1062.5 298.6V521.4" stroke="#74C476" stroke-width="1.35" fill="none" stroke-linecap="square"/>
<path d="M939.1 265.0V286.5M939.1 286.5H943.4M943.4 281.3V292.2M943.4 281.3H1025.9M943.4 292.2H1065.2M969.4 290.2H1064.9M969.4 291.1H1064.8M969.4 291.9H1065.0M969.4 292.8H1065.4M969.4 290.2V292.8M943.4 290.5H1065.2M1025.9 274.6V288.2M1025.9 274.6H1032.2M1032.2 268.8V283.3M1032.2 268.8H1037.1M1037.1 266.5V272.0M1037.1 266.5H1042.3M1052.4 263.3V264.2M1052.4 263.3H1065.4M1052.4 264.2H1065.2M1048.4 263.8V265.1M1048.4 263.8H1052.4M1048.4 265.1H1064.7M1044.8 264.4V266.0M1044.8 264.4H1048.4M1044.8 266.0H1064.8M1042.3 262.4V265.2M1042.3 262.4H1065.0M1042.3 265.2H1044.8M1042.3 263.8V266.9M1042.3 266.9H1065.1M1042.3 265.4V267.8M1042.3 267.8H1065.3M1042.3 266.6V268.7M1042.3 268.7H1064.8M1042.3 267.6V269.6M1042.3 269.6H1064.8M1042.3 266.5V268.6M1037.1 272.0H1038.0M1051.7 270.2V271.3M1051.7 270.2H1065.5M1051.7 271.3H1065.2M1044.7 270.7V272.3M1044.7 270.7H1051.7M1044.7 272.3H1064.9M1038.0 271.5V273.4M1038.0 271.5H1044.7M1038.0 273.4H1064.9M1038.0 272.0V272.5M1032.2 277.8H1040.6M1040.6 275.2V280.4M1040.6 275.2H1051.5M1058.4 273.8V274.8M1058.4 273.8H1064.7M1058.4 274.8H1065.2M1054.9 274.3V275.8M1054.9 274.3H1058.4M1054.9 275.8H1065.4M1051.5 275.1V276.8M1051.5 275.1H1054.9M1051.5 276.8H1065.4M1051.5 275.2V275.9M1040.6 280.4H1045.8M1057.1 277.4V278.3M1057.1 277.4H1065.1M1057.1 278.3H1065.1M1053.1 277.9V279.2M1053.1 277.9H1057.1M1053.1 279.2H1064.8M1050.5 278.6V280.2M1050.5 278.6H1053.1M1050.5 280.2H1065.0M1048.4 279.4V281.1M1048.4 279.4H1050.5M1048.4 281.1H1065.4M1045.8 280.2V282.0M1045.8 280.2H1048.4M1045.8 282.0H1065.2M1045.8 280.4V281.1M1032.2 283.3H1045.2M1055.3 282.4V283.3M1055.3 282.4H1065.1M1055.3 283.3H1064.9M1050.1 282.8V284.1M1050.1 282.8H1055.3M1050.1 284.1H1065.0M1045.2 283.5V285.0M1045.2 283.5H1050.1M1045.2 285.0H1065.0M1045.2 283.3V284.2M1025.9 288.2H1038.9M1044.9 285.4V286.4M1044.9 285.4H1064.7M1044.9 286.4H1065.4M1043.1 287.5V288.6M1043.1 287.5H1064.8M1043.1 288.6H1065.5M1041.4 285.9V288.0M1041.4 285.9H1044.9M1041.4 288.0H1043.1M1038.9 287.0V289.6M1038.9 287.0H1041.4M1038.9 289.6H1065.3M1038.9 288.2V288.3M1060.0 263.0H1065.0M1060.0 263.9H1065.3M1060.0 264.7H1065.0M1060.0 265.5H1065.4M1060.0 266.4H1065.3M1060.0 267.2H1064.7M1060.0 268.1H1065.4M1060.0 268.9H1065.5M1060.0 269.7H1065.5M1060.0 270.6H1065.3M1060.0 271.4H1065.2M1060.0 272.2H1065.4M1060.0 273.1H1065.3M1060.0 273.9H1065.0M1060.0 274.8H1065.1M1060.0 275.6H1064.9M1060.0 276.4H1065.4M1060.0 277.3H1065.2M1060.0 278.1H1065.1M1060.0 279.0H1065.3M1060.0 279.8H1064.8M1060.0 280.6H1064.8M1060.0 281.5H1064.9M1060.0 282.3H1064.9M1060.0 283.2H1065.4M1060.0 284.0H1065.1M1060.0 284.8H1064.8M1060.0 285.7H1064.9M1060.0 286.5H1064.7M1060.0 287.3H1065.3M1060.0 288.2H1065.4M1060.0 289.0H1065.4M1060.0 289.9H1065.2M1060.0 290.7H1065.1M1060.0 291.5H1064.8M1060.0 292.4H1065.2M1060.0 263.0V292.4" stroke="#41AB5D" stroke-width="1.35" fill="none" stroke-linecap="square"/>
<path d="M935.4 163.3V221.4M935.4 163.3H941.5M941.5 143.8V182.8M941.5 182.8H1065.2M941.5 143.8H945.6M945.6 111.0V177.3M945.6 111.0H950.4M950.4 108.0V114.1M950.4 114.1H1056.4M950.4 108.0H970.7M970.7 104.3V111.6M970.7 111.6H1030.8M970.7 104.3H1037.3M1049.7 110.0V110.8M1049.7 110.0H1065.0M1049.7 110.8H1064.8M1041.9 110.4V111.7M1041.9 110.4H1049.7M1041.9 111.7H1065.4M1042.5 112.6V113.4M1042.5 112.6H1065.4M1042.5 113.4H1065.1M1030.8 111.1V113.0M1030.8 111.1H1041.9M1030.8 113.0H1042.5M1030.8 111.6V112.0M1056.4 38.4V39.3M1056.4 38.4H1064.8M1056.4 39.3H1065.0M1052.8 38.9V40.3M1052.8 38.9H1056.4M1052.8 40.3H1064.7M1051.5 39.6V41.2M1051.5 39.6H1052.8M1051.5 41.2H1064.7M1050.9 40.4V42.2M1050.9 40.4H1051.5M1050.9 42.2H1065.2M1053.1 43.1V44.1M1053.1 43.1H1065.5M1053.1 44.1H1065.2M1050.1 41.3V43.6M1050.1 41.3H1050.9M1050.1 43.6H1053.1M1049.1 42.5V45.0M1049.1 42.5H1050.1M1049.1 45.0H1064.9M1048.8 43.7V46.0M1048.8 43.7H1049.1M1048.8 46.0H1065.3M1057.1 46.9V47.9M1057.1 46.9H1065.4M1057.1 47.9H1064.6M1055.8 48.8V49.8M1055.8 48.8H1065.4M1055.8 49.8H1065.1M1052.2 47.4V49.3M1052.2 47.4H1057.1M1052.2 49.3H1055.8M1048.5 44.9V48.4M1048.5 44.9H1048.8M1048.5 48.4H1052.2M1048.3 46.6V50.7M1048.3 46.6H1048.5M1048.3 50.7H1065.0M1048.2 48.7V51.7M1048.2 48.7H1048.3M1048.2 51.7H1065.4M1050.6 52.6V53.6M1050.6 52.6H1065.4M1050.6 53.6H1064.7M1048.0 50.2V53.1M1048.0 50.2H1048.2M1048.0 53.1H1050.6M1056.1 54.5V55.5M1056.1 54.5H1065.0M1056.1 55.5H1065.2M1053.6 55.0V56.4M1053.6 55.0H1056.1M1053.6 56.4H1065.1M1052.0 55.7V57.4M1052.0 55.7H1053.6M1052.0 57.4H1064.9M1053.2 58.3V59.3M1053.2 58.3H1065.5M1053.2 59.3H1065.3M1049.2 56.5V58.8M1049.2 56.5H1052.0M1049.2 58.8H1053.2M1047.7 51.6V57.7M1047.7 51.6H1048.0M1047.7 57.7H1049.2M1056.1 60.2V61.2M1056.1 60.2H1064.7M1056.1 61.2H1065.4M1053.6 60.7V62.1M1053.6 60.7H1056.1M1053.6 62.1H1064.8M1053.3 63.0V64.0M1053.3 63.0H1065.4M1053.3 64.0H1064.9M1051.4 61.4V63.5M1051.4 61.4H1053.6M1051.4 63.5H1053.3M1049.2 62.5V64.9M1049.2 62.5H1051.4M1049.2 64.9H1065.0M1047.1 54.6V63.7M1047.1 54.6H1047.7M1047.1 63.7H1049.2M1046.6 59.2V65.9M1046.6 59.2H1047.1M1046.6 65.9H1065.3M1056.4 66.8V67.8M1056.4 66.8H1065.0M1056.4 67.8H1064.8M1054.1 67.3V68.7M1054.1 67.3H1056.4M1054.1 68.7H1065.5M1056.3 69.7V70.6M1056.3 69.7H1065.1M1056.3 70.6H1065.1M1052.2 68.0V70.2M1052.2 68.0H1054.1M1052.2 70.2H1056.3M1050.6 69.1V71.6M1050.6 69.1H1052.2M1050.6 71.6H1065.5M1050.8 72.5V73.5M1050.8 72.5H1065.4M1050.8 73.5H1065.2M1048.7 70.3V73.0M1048.7 70.3H1050.6M1048.7 73.0H1050.8M1044.5 62.5V71.7M1044.5 62.5H1046.6M1044.5 71.7H1048.7M1052.2 74.4V75.4M1052.2 74.4H1065.3M1052.2 75.4H1065.2M1042.7 67.1V74.9M1042.7 67.1H1044.5M1042.7 74.9H1052.2M1058.3 76.3V77.3M1058.3 76.3H1065.5M1058.3 77.3H1065.2M1056.7 76.8V78.2M1056.7 76.8H1058.3M1056.7 78.2H1065.1M1057.8 79.2V80.1M1057.8 79.2H1065.2M1057.8 80.1H1065.1M1055.2 77.5V79.6M1055.2 77.5H1056.7M1055.2 79.6H1057.8M1061.1 81.1V82.0M1061.1 81.1H1065.3M1061.1 82.0H1064.8M1060.4 83.0V83.9M1060.4 83.0H1064.8M1060.4 83.9H1065.5M1058.7 81.5V83.4M1058.7 81.5H1061.1M1058.7 83.4H1060.4M1053.4 78.6V82.5M1053.4 78.6H1055.2M1053.4 82.5H1058.7M1053.9 84.8V85.8M1053.9 84.8H1065.4M1053.9 85.8H1065.0M1051.5 80.5V85.3M1051.5 80.5H1053.4M1051.5 85.3H1053.9M1041.9 71.0V82.9M1041.9 71.0H1042.7M1041.9 82.9H1051.5M1041.1 77.0V86.7M1041.1 77.0H1041.9M1041.1 86.7H1064.6M1053.8 87.7V88.6M1053.8 87.7H1065.3M1053.8 88.6H1065.3M1050.8 88.2V89.6M1050.8 88.2H1053.8M1050.8 89.6H1065.1M1053.7 90.5V91.5M1053.7 90.5H1064.9M1053.7 91.5H1065.0M1048.2 88.9V91.0M1048.2 88.9H1050.8M1048.2 91.0H1053.7M1046.7 92.4V93.4M1046.7 92.4H1065.5M1046.7 93.4H1065.2M1044.5 89.9V92.9M1044.5 89.9H1048.2M1044.5 92.9H1046.7M1040.7 81.9V91.4M1040.7 81.9H1041.1M1040.7 91.4H1044.5M1040.2 86.6V94.3M1040.2 86.6H1040.7M1040.2 94.3H1065.1M1040.0 90.5V95.3M1040.0 90.5H1040.2M1040.0 95.3H1065.2M1055.7 96.2V97.2M1055.7 96.2H1065.0M1055.7 97.2H1065.5M1051.3 96.7V98.1M1051.3 96.7H1055.7M1051.3 98.1H1065.5M1039.2 92.9V97.4M1039.2 92.9H1040.0M1039.2 97.4H1051.3M1049.0 99.1V100.0M1049.0 99.1H1064.9M1049.0 100.0H1065.3M1041.6 99.5V101.0M1041.6 99.5H1049.0M1041.6 101.0H1064.9M1037.6 95.1V100.3M1037.6 95.1H1039.2M1037.6 100.3H1041.6M1056.2 101.9V102.9M1056.2 101.9H1065.3M1056.2 102.9H1065.1M1053.8 102.4V103.8M1053.8 102.4H1056.2M1053.8 103.8H1064.9M1057.1 104.8V105.7M1057.1 104.8H1065.5M1057.1 105.7H1065.5M1054.6 105.2V106.7M1054.6 105.2H1057.1M1054.6 106.7H1064.8M1052.4 105.9V107.6M1052.4 105.9H1054.6M1052.4 107.6H1064.6M1048.8 103.1V106.8M1048.8 103.1H1053.8M1048.8 106.8H1052.4M1037.3 97.7V104.9M1037.3 97.7H1037.6M1037.3 104.9H1048.8M1037.3 101.3V104.3M945.6 177.3H950.4M950.4 171.5V182.2M950.4 182.2H1065.2M950.4 171.5H959.6M959.6 163.7V177.7M959.6 177.7H963.0M963.0 177.4H1065.1M963.0 178.2H1065.3M963.0 179.0H1064.8M963.0 179.9H1065.0M963.0 180.7H1064.9M963.0 181.5H1065.2M963.0 182.3H1065.2M963.0 177.4V182.3M959.6 163.7H1017.4M1017.4 153.1V173.6M1017.4 173.6H1027.7M1049.5 171.2V172.1M1049.5 171.2H1064.8M1049.5 172.1H1065.0M1041.8 171.7V173.0M1041.8 171.7H1049.5M1041.8 173.0H1065.5M1036.8 172.3V174.0M1036.8 172.3H1041.8M1036.8 174.0H1064.9M1032.6 174.9V175.8M1032.6 174.9H1065.4M1032.6 175.8H1064.9M1027.7 173.2V175.3M1027.7 173.2H1036.8M1027.7 175.3H1032.6M1027.7 173.6V174.2M1017.4 153.1H1039.4M1058.4 114.8V115.8M1058.4 114.8H1065.1M1058.4 115.8H1065.1M1055.7 116.7V117.7M1055.7 116.7H1065.4M1055.7 117.7H1065.3M1053.4 115.3V117.2M1053.4 115.3H1058.4M1053.4 117.2H1055.7M1055.5 118.6V119.6M1055.5 118.6H1064.6M1055.5 119.6H1064.9M1050.1 116.2V119.1M1050.1 116.2H1053.4M1050.1 119.1H1055.5M1058.1 120.5V121.5M1058.1 120.5H1065.4M1058.1 121.5H1065.5M1055.6 122.4V123.4M1055.6 122.4H1064.7M1055.6 123.4H1065.3M1053.9 121.0V122.9M1053.9 121.0H1058.1M1053.9 122.9H1055.6M1047.7 117.7V122.0M1047.7 117.7H1050.1M1047.7 122.0H1053.9M1055.2 124.3V125.3M1055.2 124.3H1064.8M1055.2 125.3H1064.8M1052.1 124.8V126.2M1052.1 124.8H1055.2M1052.1 126.2H1065.2M1049.2 125.5V127.2M1049.2 125.5H1052.1M1049.2 127.2H1065.3M1046.2 119.8V126.4M1046.2 119.8H1047.7M1046.2 126.4H1049.2M1055.3 128.1V129.1M1055.3 128.1H1065.1M1055.3 129.1H1065.5M1054.2 130.1V131.0M1054.2 130.1H1064.7M1054.2 131.0H1065.2M1052.1 128.6V130.5M1052.1 128.6H1055.3M1052.1 130.5H1054.2M1055.7 132.0V132.9M1055.7 132.0H1065.3M1055.7 132.9H1065.4M1049.7 129.6V132.4M1049.7 129.6H1052.1M1049.7 132.4H1055.7M1058.3 133.9V134.8M1058.3 133.9H1065.0M1058.3 134.8H1065.1M1056.0 135.8V136.7M1056.0 135.8H1065.0M1056.0 136.7H1065.3M1054.3 134.3V136.2M1054.3 134.3H1058.3M1054.3 136.2H1056.0M1045.9 131.0V135.3M1045.9 131.0H1049.7M1045.9 135.3H1054.3M1043.9 123.1V133.2M1043.9 123.1H1046.2M1043.9 133.2H1045.9M1042.0 128.1V137.7M1042.0 128.1H1043.9M1042.0 137.7H1065.4M1048.8 138.6V139.6M1048.8 138.6H1065.0M1048.8 139.6H1064.8M1041.5 132.9V139.1M1041.5 132.9H1042.0M1041.5 139.1H1048.8M1057.0 140.5V141.5M1057.0 140.5H1065.3M1057.0 141.5H1065.0M1054.6 141.0V142.4M1054.6 141.0H1057.0M1054.6 142.4H1064.7M1055.8 143.4V144.4M1055.8 143.4H1064.8M1055.8 144.4H1064.8M1051.3 141.7V143.9M1051.3 141.7H1054.6M1051.3 143.9H1055.8M1040.7 136.0V142.8M1040.7 136.0H1041.5M1040.7 142.8H1051.3M1052.6 145.3V146.3M1052.6 145.3H1065.0M1052.6 146.3H1065.3M1050.7 147.2V148.2M1050.7 147.2H1065.3M1050.7 148.2H1064.7M1047.7 145.8V147.7M1047.7 145.8H1052.6M1047.7 147.7H1050.7M1043.9 146.7V149.1M1043.9 146.7H1047.7M1043.9 149.1H1065.2M1040.0 139.4V147.9M1040.0 139.4H1040.7M1040.0 147.9H1043.9M1055.2 150.1V151.0M1055.2 150.1H1065.0M1055.2 151.0H1064.8M1055.5 152.0V152.9M1055.5 152.0H1064.8M1055.5 152.9H1064.8M1049.3 150.6V152.5M1049.3 150.6H1055.2M1049.3 152.5H1055.5M1039.4 143.7V151.5M1039.4 143.7H1040.0M1039.4 151.5H1049.3M1039.4 147.6V153.9M1039.4 153.9H1065.2M1039.4 150.7V154.8M1039.4 154.8H1065.2M1039.4 152.8V155.8M1039.4 155.8H1065.5M1039.4 154.3V156.7M1039.4 156.7H1065.2M1039.4 155.5V157.7M1039.4 157.7H1065.1M1056.7 158.7V159.6M1056.7 158.7H1064.9M1056.7 159.6H1064.7M1054.0 159.1V160.6M1054.0 159.1H1056.7M1054.0 160.6H1064.7M1051.6 159.8V161.5M1051.6 159.8H1054.0M1051.6 161.5H1064.6M1039.4 156.6V160.7M1039.4 160.7H1051.6M1039.4 158.6V162.5M1039.4 162.5H1065.3M1052.1 163.4V164.4M1052.1 163.4H1064.6M1052.1 164.4H1064.9M1046.1 163.9V165.3M1046.1 163.9H1052.1M1046.1 165.3H1064.8M1039.4 160.6V164.6M1039.4 164.6H1046.1M1044.4 166.3V167.2M1044.4 166.3H1064.8M1044.4 167.2H1064.9M1039.4 162.6V166.8M1039.4 166.8H1044.4M1054.2 168.2V169.1M1054.2 168.2H1064.7M1054.2 169.1H1065.4M1055.0 170.1V171.0M1055.0 170.1H1065.4M1055.0 171.0H1065.5M1050.3 170.6V172.0M1050.3 170.6H1055.0M1050.3 172.0H1065.1M1046.6 168.7V171.3M1046.6 168.7H1054.2M1046.6 171.3H1050.3M1039.4 164.7V170.0M1039.4 170.0H1046.6M1039.4 153.1V167.3M1061.0 39.2H1065.0M1061.0 40.1H1065.2M1061.0 40.9H1065.0M1061.0 41.8H1065.0M1061.0 42.6H1065.0M1061.0 43.5H1064.8M1061.0 44.3H1065.0M1061.0 45.2H1065.3M1061.0 46.0H1064.8M1061.0 46.9H1065.3M1061.0 47.7H1065.0M1061.0 48.6H1065.1M1061.0 49.4H1064.8M1061.0 50.3H1065.2M1061.0 51.1H1065.2M1061.0 52.0H1065.0M1061.0 52.8H1065.0M1061.0 53.7H1064.7M1061.0 54.5H1065.4M1061.0 55.4H1064.8M1061.0 56.2H1065.5M1061.0 57.1H1064.9M1061.0 57.9H1064.9M1061.0 58.8H1065.1M1061.0 59.6H1064.8M1061.0 60.5H1064.8M1061.0 61.3H1065.4M1061.0 62.2H1065.1M1061.0 63.0H1065.3M1061.0 63.8H1065.3M1061.0 64.7H1065.4M1061.0 65.5H1065.3M1061.0 66.4H1064.9M1061.0 67.2H1065.0M1061.0 68.1H1065.1M1061.0 68.9H1065.3M1061.0 69.8H1065.2M1061.0 70.6H1065.1M1061.0 71.5H1065.3M1061.0 72.3H1064.9M1061.0 73.2H1064.9M1061.0 74.0H1064.9M1061.0 74.9H1065.4M1061.0 75.7H1064.9M1061.0 76.6H1065.4M1061.0 77.4H1065.4M1061.0 78.3H1065.0M1061.0 79.1H1064.7M1061.0 80.0H1065.4M1061.0 80.8H1065.4M1061.0 81.7H1065.3M1061.0 82.5H1065.1M1061.0 83.4H1065.4M1061.0 84.2H1064.8M1061.0 85.1H1065.2M1061.0 85.9H1065.4M1061.0 86.8H1065.2M1061.0 87.6H1065.0M1061.0 88.5H1065.2M1061.0 89.3H1065.3M1061.0 90.2H1064.9M1061.0 91.0H1064.8M1061.0 91.9H1065.4M1061.0 92.7H1065.4M1061.0 93.6H1065.3M1061.0 94.4H1065.0M1061.0 95.3H1064.9M1061.0 96.1H1065.2M1061.0 97.0H1065.2M1061.0 97.8H1065.4M1061.0 98.7H1065.4M1061.0 99.5H1065.4M1061.0 100.4H1065.3M1061.0 101.2H1065.2M1061.0 102.1H1064.9M1061.0 102.9H1065.3M1061.0 103.8H1064.9M1061.0 104.6H1065.1M1061.0 105.5H1065.4M1061.0 106.3H1065.3M1061.0 107.2H1064.8M1061.0 108.0H1064.8M1061.0 108.9H1064.7M1061.0 109.7H1064.7M1061.0 110.6H1065.5M1061.0 111.4H1065.3M1061.0 112.2H1064.7M1061.0 113.1H1064.8M1061.0 113.9H1065.1M1061.0 114.8H1064.7M1061.0 115.6H1065.0M1061.0 116.5H1065.0M1061.0 117.3H1065.0M1061.0 118.2H1064.9M1061.0 119.0H1064.7M1061.0 119.9H1065.4M1061.0 120.7H1065.1M1061.0 121.6H1065.3M1061.0 122.4H1065.3M1061.0 123.3H1065.0M1061.0 124.1H1064.8M1061.0 125.0H1064.9M1061.0 125.8H1065.4M1061.0 126.7H1065.3M1061.0 127.5H1065.4M1061.0 128.4H1065.3M1061.0 129.2H1065.2M1061.0 130.1H1064.9M1061.0 130.9H1065.0M1061.0 131.8H1065.3M1061.0 132.6H1065.0M1061.0 133.5H1064.9M1061.0 134.3H1065.4M1061.0 135.2H1065.1M1061.0 136.0H1065.3M1061.0 136.9H1064.9M1061.0 137.7H1065.4M1061.0 138.6H1065.1M1061.0 139.4H1065.5M1061.0 140.3H1065.3M1061.0 141.1H1065.4M1061.0 142.0H1065.1M1061.0 142.8H1065.2M1061.0 143.7H1065.0M1061.0 144.5H1065.1M1061.0 145.4H1065.4M1061.0 146.2H1064.9M1061.0 147.1H1065.0M1061.0 147.9H1065.3M1061.0 148.8H1065.1M1061.0 149.6H1065.4M1061.0 150.5H1065.2M1061.0 151.3H1064.7M1061.0 152.2H1065.4M1061.0 153.0H1065.0M1061.0 153.9H1065.1M1061.0 154.7H1065.0M1061.0 155.6H1065.2M1061.0 156.4H1064.7M1061.0 157.3H1064.8M1061.0 158.1H1065.3M1061.0 158.9H1065.3M1061.0 159.8H1065.3M1061.0 160.6H1065.2M1061.0 161.5H1065.1M1061.0 162.3H1064.9M1061.0 163.2H1064.8M1061.0 164.0H1065.2M1061.0 164.9H1065.4M1061.0 165.7H1065.1M1061.0 166.6H1065.1M1061.0 167.4H1064.9M1061.0 168.3H1065.5M1061.0 169.1H1064.9M1061.0 170.0H1064.8M1061.0 170.8H1065.5M1061.0 171.7H1064.7M1061.0 172.5H1065.2M1061.0 173.4H1065.4M1061.0 174.2H1065.2M1061.0 175.1H1065.3M1061.0 175.9H1064.8M1061.0 176.8H1064.9M1061.0 177.6H1065.3M1061.0 178.5H1065.3M1061.0 179.3H1065.0M1061.0 180.2H1065.0M1061.0 181.0H1064.9M1061.0 181.9H1065.1M1061.0 39.2V181.9" stroke="#238B45" stroke-width="1.35" fill="none" stroke-linecap="square"/>
<path d="M939.3 244.5V265.0M939.3 244.5H941.5M941.5 230.5V258.9M941.5 230.5H947.5M947.5 217.2V243.6M947.5 217.2H1031.7M1031.7 213.6V220.8M1031.7 220.8H1056.4M1031.7 213.6H1050.0M1060.6 184.0V184.8M1060.6 184.0H1065.2M1060.6 184.8H1064.9M1059.8 184.4V185.7M1059.8 184.4H1060.6M1059.8 185.7H1064.9M1059.8 186.6V187.4M1059.8 186.6H1065.5M1059.8 187.4H1065.4M1058.7 185.1V187.0M1058.7 185.1H1059.8M1058.7 187.0H1059.8M1061.1 188.2V189.1M1061.1 188.2H1065.3M1061.1 189.1H1065.5M1059.3 188.7V189.9M1059.3 188.7H1061.1M1059.3 189.9H1065.4M1057.3 186.0V189.3M1057.3 186.0H1058.7M1057.3 189.3H1059.3M1060.9 190.8V191.7M1060.9 190.8H1065.3M1060.9 191.7H1064.7M1059.7 191.2V192.5M1059.7 191.2H1060.9M1059.7 192.5H1064.9M1059.5 193.3V194.2M1059.5 193.3H1065.5M1059.5 194.2H1065.0M1058.0 191.9V193.8M1058.0 191.9H1059.7M1058.0 193.8H1059.5M1055.1 187.7V192.8M1055.1 187.7H1057.3M1055.1 192.8H1058.0M1059.4 195.1V195.9M1059.4 195.1H1065.5M1059.4 195.9H1065.5M1056.7 195.5V196.8M1056.7 195.5H1059.4M1056.7 196.8H1064.9M1053.7 190.2V196.1M1053.7 190.2H1055.1M1053.7 196.1H1056.7M1053.1 193.2V197.6M1053.1 193.2H1053.7M1053.1 197.6H1065.4M1052.8 195.4V198.4M1052.8 195.4H1053.1M1052.8 198.4H1065.5M1058.1 199.3V200.2M1058.1 199.3H1065.4M1058.1 200.2H1065.2M1059.4 201.0V201.8M1059.4 201.0H1065.1M1059.4 201.8H1064.8M1056.7 201.4V202.7M1056.7 201.4H1059.4M1056.7 202.7H1065.4M1054.9 199.7V202.1M1054.9 199.7H1058.1M1054.9 202.1H1056.7M1052.6 200.9V203.6M1052.6 200.9H1054.9M1052.6 203.6H1065.3M1051.9 196.9V202.2M1051.9 196.9H1052.8M1051.9 202.2H1052.6M1051.5 199.6V204.4M1051.5 199.6H1051.9M1051.5 204.4H1064.8M1058.5 205.2V206.1M1058.5 205.2H1065.4M1058.5 206.1H1064.7M1056.2 206.9V207.8M1056.2 206.9H1065.3M1056.2 207.8H1064.7M1054.5 205.7V207.4M1054.5 205.7H1058.5M1054.5 207.4H1056.2M1051.2 202.0V206.5M1051.2 202.0H1051.5M1051.2 206.5H1054.5M1059.8 208.7V209.5M1059.8 208.7H1065.4M1059.8 209.5H1065.4M1058.4 209.1V210.3M1058.4 209.1H1059.8M1058.4 210.3H1065.2M1057.5 209.7V211.2M1057.5 209.7H1058.4M1057.5 211.2H1065.5M1061.0 212.1V212.9M1061.0 212.1H1065.0M1061.0 212.9H1064.8M1059.6 212.5V213.8M1059.6 212.5H1061.0M1059.6 213.8H1064.6M1058.5 213.1V214.6M1058.5 213.1H1059.6M1058.5 214.6H1065.4M1055.1 210.5V213.9M1055.1 210.5H1057.5M1055.1 213.9H1058.5M1050.6 204.3V212.2M1050.6 204.3H1051.2M1050.6 212.2H1055.1M1050.0 208.2V215.4M1050.0 208.2H1050.6M1050.0 215.4H1065.3M1053.8 216.3V217.2M1053.8 216.3H1065.1M1053.8 217.2H1065.3M1050.0 211.8V216.7M1050.0 216.7H1053.8M1050.0 214.3V218.0M1050.0 218.0H1064.6M1050.0 213.6V216.1M1057.9 218.6V219.4M1057.9 218.6H1064.7M1057.9 219.4H1065.3M1057.8 219.0V220.2M1057.8 219.0H1057.9M1057.8 220.2H1065.3M1057.7 219.6V221.0M1057.7 219.6H1057.8M1057.7 221.0H1064.7M1061.0 221.8V222.6M1061.0 221.8H1065.2M1061.0 222.6H1064.9M1059.1 222.2V223.4M1059.1 222.2H1061.0M1059.1 223.4H1064.7M1057.5 220.3V222.8M1057.5 220.3H1057.7M1057.5 222.8H1059.1M1057.2 221.5V224.2M1057.2 221.5H1057.5M1057.2 224.2H1064.8M1057.1 222.9V225.0M1057.1 222.9H1057.2M1057.1 225.0H1065.2M1057.0 223.9V225.8M1057.0 223.9H1057.1M1057.0 225.8H1065.1M1061.1 226.6V227.4M1061.1 226.6H1064.6M1061.1 227.4H1064.8M1059.8 227.0V228.2M1059.8 227.0H1061.1M1059.8 228.2H1064.7M1058.7 227.6V229.0M1058.7 227.6H1059.8M1058.7 229.0H1064.7M1057.0 224.8V228.3M1057.0 228.3H1058.7M1056.9 226.5V229.7M1056.9 229.7H1064.6M1056.9 228.1V230.5M1056.9 230.5H1065.5M1056.9 229.3V231.3M1056.9 231.3H1064.9M1060.6 232.1V232.9M1060.6 232.1H1064.8M1060.6 232.9H1065.5M1058.5 232.5V233.7M1058.5 232.5H1060.6M1058.5 233.7H1064.8M1056.9 230.3V233.1M1056.9 233.1H1058.5M1056.9 231.7V234.5M1056.9 234.5H1065.5M1060.6 235.3V236.1M1060.6 235.3H1065.5M1060.6 236.1H1065.2M1058.5 235.7V236.9M1058.5 235.7H1060.6M1058.5 236.9H1065.1M1056.8 233.1V236.3M1056.8 236.3H1058.5M1056.8 234.7V237.7M1056.8 237.7H1065.1M1056.8 236.2V238.5M1056.8 238.5H1065.0M1056.8 237.4V239.3M1056.8 239.3H1065.5M1056.8 238.3V240.1M1056.8 240.1H1065.5M1062.0 240.9V241.7M1062.0 240.9H1065.5M1062.0 241.7H1064.9M1061.2 241.3V242.5M1061.2 241.3H1062.0M1061.2 242.5H1065.4M1060.7 241.9V243.3M1060.7 241.9H1061.2M1060.7 243.3H1065.2M1060.3 242.6V244.1M1060.3 242.6H1060.7M1060.3 244.1H1064.9M1060.2 244.9V245.7M1060.2 244.9H1064.6M1060.2 245.7H1065.0M1059.9 243.3V245.3M1059.9 243.3H1060.3M1059.9 245.3H1060.2M1059.5 244.3V246.5M1059.5 244.3H1059.9M1059.5 246.5H1064.7M1059.3 245.4V247.3M1059.3 245.4H1059.5M1059.3 247.3H1064.8M1059.1 246.3V248.1M1059.1 246.3H1059.3M1059.1 248.1H1064.9M1058.8 247.2V248.9M1058.8 247.2H1059.1M1058.8 248.9H1064.7M1056.7 239.2V248.0M1056.7 239.2H1056.8M1056.7 248.0H1058.8M1056.6 243.6V249.7M1056.6 243.6H1056.7M1056.6 249.7H1064.8M1059.7 250.5V251.2M1059.7 250.5H1065.2M1059.7 251.2H1065.1M1057.1 250.9V252.0M1057.1 250.9H1059.7M1057.1 252.0H1065.5M1056.6 246.6V251.4M1056.6 251.4H1057.1M1056.6 249.0V252.8M1056.6 252.8H1065.4M1056.5 250.9V253.6M1056.5 253.6H1065.5M1056.5 252.3V254.4M1056.5 254.4H1065.4M1056.5 253.4V255.2M1056.5 255.2H1065.3M1056.5 254.3V256.0M1056.5 256.0H1065.4M1056.5 255.2V256.8M1056.5 256.8H1064.9M1060.2 257.6V258.4M1060.2 257.6H1064.9M1060.2 258.4H1065.5M1057.8 258.0V259.2M1057.8 258.0H1060.2M1057.8 259.2H1064.8M1056.5 256.0V258.6M1056.5 258.6H1057.8M1056.4 257.3V260.0M1056.4 260.0H1064.9M1056.4 258.7V260.8M1056.4 260.8H1065.3M1056.4 259.7V261.6M1056.4 261.6H1065.1M1056.4 220.8V260.7M947.5 243.6H952.3M952.3 240.9V245.4M952.3 245.4H1065.2M952.3 244.4H1065.2M952.3 246.3H1065.2M952.3 240.9H954.5M954.5 238.2V244.0M954.5 238.2H965.8M965.8 234.1V242.4M965.8 242.4H1065.2M965.8 241.5H1065.2M965.8 243.3H1065.2M965.8 234.1H971.2M971.2 229.2V239.1M971.2 229.2H996.8M996.8 226.6V232.8M996.8 226.6H1065.2M996.8 227.5H1065.2M1003.0 225.8H1065.2M996.8 232.8H1040.3M1056.2 228.4V229.4M1056.2 228.4H1065.0M1056.2 229.4H1065.4M1058.0 230.4V231.4M1058.0 230.4H1065.4M1058.0 231.4H1065.1M1050.7 228.9V230.9M1050.7 228.9H1056.2M1050.7 230.9H1058.0M1047.2 229.9V232.4M1047.2 229.9H1050.7M1047.2 232.4H1065.1M1050.8 233.4V234.4M1050.8 233.4H1065.1M1050.8 234.4H1064.8M1044.6 231.2V233.9M1044.6 231.2H1047.2M1044.6 233.9H1050.8M1042.3 232.5V235.4M1042.3 232.5H1044.6M1042.3 235.4H1065.2M1040.3 234.0V236.4M1040.3 234.0H1042.3M1040.3 236.4H1065.1M1040.3 232.8V235.2M971.2 239.1H986.4M986.4 237.3V240.0M986.4 237.3H1045.0M986.4 240.0H1065.2M990.0 239.3H1065.2M1056.1 236.8V237.9M1056.1 236.8H1064.8M1056.1 237.9H1065.4M1051.5 237.3V238.9M1051.5 237.3H1056.1M1051.5 238.9H1065.3M1051.6 239.9V241.0M1051.6 239.9H1064.8M1051.6 241.0H1064.6M1045.0 238.1V240.5M1045.0 238.1H1051.5M1045.0 240.5H1051.6M1045.0 237.3V239.3M941.5 258.9H950.5M950.5 256.2V260.7M950.5 256.2H976.6M976.6 252.6V258.9M976.6 252.6H1052.9M976.6 253.4H1052.9M976.6 258.9H1065.2M950.5 260.7H1065.2M991.8 258.1H1065.4M991.8 259.1H1065.2M991.8 260.0H1065.4M991.8 261.0H1065.0M991.8 258.1V261.0M1060.9 247.0V248.0M1060.9 247.0H1065.4M1060.9 248.0H1064.6M1059.0 247.5V249.0M1059.0 247.5H1060.9M1059.0 249.0H1065.3M1057.7 248.2V250.0M1057.7 248.2H1059.0M1057.7 250.0H1064.7M1056.7 249.1V251.0M1056.7 249.1H1057.7M1056.7 251.0H1064.8M1055.8 250.1V252.0M1055.8 250.1H1056.7M1055.8 252.0H1065.1M1056.0 253.0V254.0M1056.0 253.0H1065.2M1056.0 254.0H1064.9M1054.8 251.0V253.5M1054.8 251.0H1055.8M1054.8 253.5H1056.0M1056.6 255.0V256.0M1056.6 255.0H1065.4M1056.6 256.0H1065.5M1052.9 252.3V255.5M1052.9 252.3H1054.8M1052.9 255.5H1056.6M1052.9 252.6V253.9" stroke="#005A32" stroke-width="1.4" fill="none" stroke-linecap="square"/>
<rect x="461.30" y="44.10" width="21.60" height="709.90" fill="#BDD7E7"/>
<rect x="461.30" y="44.10" width="21.60" height="370.90" fill="#2171B5"/>
<rect x="461.30" y="419.90" width="21.60" height="6.80" fill="#2171B5"/>
<rect x="461.30" y="429.00" width="21.60" height="9.80" fill="#2171B5"/>
<rect x="461.30" y="442.00" width="21.60" height="39.00" fill="#2171B5"/>
<rect x="461.30" y="555.20" width="21.60" height="1.60" fill="#2171B5"/>
<rect x="461.30" y="562.00" width="21.60" height="2.00" fill="#2171B5"/>
<rect x="461.30" y="720.20" width="21.60" height="2.30" fill="#2171B5"/>
<rect x="1076.80" y="38.00" width="21.20" height="715.80" fill="#BDD7E7"/>
<rect x="1076.80" y="108.80" width="21.20" height="5.20" fill="#2171B5"/>
<rect x="1076.80" y="166.70" width="21.20" height="2.30" fill="#2171B5"/>
<rect x="1076.80" y="182.70" width="21.20" height="1.30" fill="#2171B5"/>
<rect x="1076.80" y="231.80" width="21.20" height="1.20" fill="#2171B5"/>
<rect x="1076.80" y="243.30" width="21.20" height="2.60" fill="#2171B5"/>
<rect x="1076.80" y="261.60" width="21.20" height="22.90" fill="#2171B5"/>
<rect x="1076.80" y="290.90" width="21.20" height="1.10" fill="#2171B5"/>
<rect x="1076.80" y="293.30" width="21.20" height="2.70" fill="#2171B5"/>
<rect x="1076.80" y="297.90" width="21.20" height="44.30" fill="#2171B5"/>
<rect x="1076.80" y="345.60" width="21.20" height="36.10" fill="#2171B5"/>
<rect x="1076.80" y="382.70" width="21.20" height="11.30" fill="#2171B5"/>
<rect x="1076.80" y="395.30" width="21.20" height="1.70" fill="#2171B5"/>
<rect x="1076.80" y="398.00" width="21.20" height="3.00" fill="#2171B5"/>
<rect x="1076.80" y="410.80" width="21.20" height="1.40" fill="#2171B5"/>
<rect x="1076.80" y="479.00" width="21.20" height="26.90" fill="#2171B5"/>
<rect x="1076.80" y="512.00" width="21.20" height="2.90" fill="#2171B5"/>
<rect x="1076.80" y="522.80" width="21.20" height="6.90" fill="#2171B5"/>
<rect x="1076.80" y="531.00" width="21.20" height="2.70" fill="#2171B5"/>
<rect x="1076.80" y="537.70" width="21.20" height="1.30" fill="#2171B5"/>
<rect x="1076.80" y="543.20" width="21.20" height="22.60" fill="#2171B5"/>
<rect x="1076.80" y="571.30" width="21.20" height="3.80" fill="#2171B5"/>
<rect x="1076.80" y="576.00" width="21.20" height="3.00" fill="#2171B5"/>
<rect x="1076.80" y="581.00" width="21.20" height="1.00" fill="#2171B5"/>
<rect x="1076.80" y="589.90" width="21.20" height="1.10" fill="#2171B5"/>
<rect x="1076.80" y="600.80" width="21.20" height="1.50" fill="#2171B5"/>
<rect x="1076.80" y="603.70" width="21.20" height="142.30" fill="#2171B5"/>
<rect x="1076.80" y="342.20" width="21.20" height="3.40" fill="#8FB6D8"/>
<rect x="1076.80" y="404.00" width="21.20" height="2.00" fill="#8FB6D8"/>
<rect x="1076.80" y="535.00" width="21.20" height="2.00" fill="#8FB6D8"/>
<rect x="1076.80" y="699.40" width="21.20" height="2.40" fill="#8FB6D8"/>
<rect x="1076.80" y="746.00" width="21.20" height="2.50" fill="#8FB6D8"/>
<rect x="1076.80" y="665.00" width="21.20" height="0.90" fill="#9CC0DE"/>
<rect x="1076.80" y="695.40" width="21.20" height="0.90" fill="#5E97C9"/>
<rect x="1076.80" y="705.00" width="21.20" height="0.90" fill="#9CC0DE"/>
<rect x="1076.80" y="709.10" width="21.20" height="0.90" fill="#9CC0DE"/>
<line x1="486.8" x2="486.8" y1="41.2" y2="486.2" stroke="#000" stroke-width="2.2"/>
<line x1="486.8" x2="486.8" y1="495.4" y2="528.8" stroke="#000" stroke-width="2.2"/>
<line x1="486.8" x2="486.8" y1="555.1" y2="716.5" stroke="#000" stroke-width="2.2"/>
<line x1="1104.6" x2="1104.6" y1="39" y2="179.4" stroke="#000" stroke-width="2.7"/>
<line x1="1104.6" x2="1104.6" y1="182.2" y2="259.5" stroke="#000" stroke-width="2.7"/>
<line x1="1104.6" x2="1104.6" y1="261.6" y2="293.5" stroke="#000" stroke-width="2.7"/>
<line x1="1104.6" x2="1104.6" y1="297.2" y2="517.2" stroke="#000" stroke-width="2.7"/>
<line x1="1104.6" x2="1104.6" y1="519.4" y2="598.5" stroke="#000" stroke-width="2.7"/>
<line x1="1104.6" x2="1104.6" y1="603.3" y2="744.5" stroke="#000" stroke-width="2.7"/>
<line x1="0" x2="505.3" y1="755" y2="755" stroke="#000" stroke-width="2.2"/>
<line x1="611.6" x2="1120.8" y1="755" y2="755" stroke="#000" stroke-width="2.2"/>
<line x1="72.5" x2="72.5" y1="755" y2="760.8" stroke="#333" stroke-width="2.2"/>
<line x1="190.7" x2="190.7" y1="755" y2="760.8" stroke="#333" stroke-width="2.2"/>
<line x1="308.8" x2="308.8" y1="755" y2="760.8" stroke="#333" stroke-width="2.2"/>
<line x1="427" x2="427" y1="755" y2="760.8" stroke="#333" stroke-width="2.2"/>
<line x1="627.2" x2="627.2" y1="755" y2="760.8" stroke="#333" stroke-width="2.2"/>
<line x1="731.45" x2="731.45" y1="755" y2="760.8" stroke="#333" stroke-width="2.2"/>
<line x1="835.7" x2="835.7" y1="755" y2="760.8" stroke="#333" stroke-width="2.2"/>
<line x1="939.95" x2="939.95" y1="755" y2="760.8" stroke="#333" stroke-width="2.2"/>
<line x1="1044.2" x2="1044.2" y1="755" y2="760.8" stroke="#333" stroke-width="2.2"/>
<rect x="45.10" y="86.60" width="30.20" height="30.30" fill="#2171B5"/>
<rect x="45.10" y="116.90" width="30.20" height="30.20" fill="#BDD7E7"/>
<g opacity="0.999"><text x="72.5" y="779.7" font-size="18.8" fill="#4D4D4D" text-anchor="middle">1700</text>
<text x="190.7" y="779.7" font-size="18.8" fill="#4D4D4D" text-anchor="middle">1800</text>
<text x="308.8" y="779.7" font-size="18.8" fill="#4D4D4D" text-anchor="middle">1900</text>
<text x="427" y="779.7" font-size="18.8" fill="#4D4D4D" text-anchor="middle">2000</text>
<text x="627.2" y="779.7" font-size="18.8" fill="#4D4D4D" text-anchor="middle">1600</text>
<text x="731.45" y="779.7" font-size="18.8" fill="#4D4D4D" text-anchor="middle">1700</text>
<text x="835.7" y="779.7" font-size="18.8" fill="#4D4D4D" text-anchor="middle">1800</text>
<text x="939.95" y="779.7" font-size="18.8" fill="#4D4D4D" text-anchor="middle">1900</text>
<text x="1044.2" y="779.7" font-size="18.8" fill="#4D4D4D" text-anchor="middle">2000</text>
<text x="84.3" y="107.1" font-size="15.4" fill="#000">MDR</text>
<text x="84.3" y="137.4" font-size="15.4" fill="#000">Non-MDR</text>
<text x="42.0" y="67.7" font-size="18.6" fill="#000" stroke="#000" stroke-width="0.3" textLength="183.6" lengthAdjust="spacingAndGlyphs">Resistance Genotype</text>
<text x="497.5" y="285.4" font-size="18.6" fill="#000" stroke="#000" stroke-width="0.3" textLength="59.6" lengthAdjust="spacingAndGlyphs">Ural_A</text>
<text x="495.6" y="519.8" font-size="18.6" fill="#000" stroke="#000" stroke-width="0.3" textLength="59.2" lengthAdjust="spacingAndGlyphs">Ural_C</text>
<text x="498.0" y="644.3" font-size="18.6" fill="#000" stroke="#000" stroke-width="0.3" textLength="58.6" lengthAdjust="spacingAndGlyphs">Ural_B</text>
<text x="1118.2" y="117.3" font-size="18.6" fill="#000" stroke="#000" stroke-width="0.3" textLength="80.2" lengthAdjust="spacingAndGlyphs">Beijing_E</text>
<text x="1116.8" y="228.8" font-size="18.6" fill="#000" stroke="#000" stroke-width="0.3" textLength="79.6" lengthAdjust="spacingAndGlyphs">Beijing_F</text>
<text x="1118.1" y="282.7" font-size="18.6" fill="#000" stroke="#000" stroke-width="0.3" textLength="83" lengthAdjust="spacingAndGlyphs">Beijing_D</text>
<text x="1118.6" y="413.5" font-size="18.6" fill="#000" stroke="#000" stroke-width="0.3" textLength="81.6" lengthAdjust="spacingAndGlyphs">Beijing_C</text>
<text x="1118.6" y="566.7" font-size="18.6" fill="#000" stroke="#000" stroke-width="0.3" textLength="81.8" lengthAdjust="spacingAndGlyphs">Beijing_B</text>
<text x="1117.8" y="708.5" font-size="18.6" fill="#000" stroke="#000" stroke-width="0.3" textLength="81.6" lengthAdjust="spacingAndGlyphs">Beijing_A</text>
<text x="12.5" y="20.5" font-size="28.6" fill="#000" stroke="#000" stroke-width="0.3" textLength="18.6" lengthAdjust="spacingAndGlyphs">A</text>
<text x="616.9" y="20.7" font-size="28.6" fill="#000" stroke="#000" stroke-width="0.3" textLength="18.4" lengthAdjust="spacingAndGlyphs">B</text></g>
</svg>
</body></html>
